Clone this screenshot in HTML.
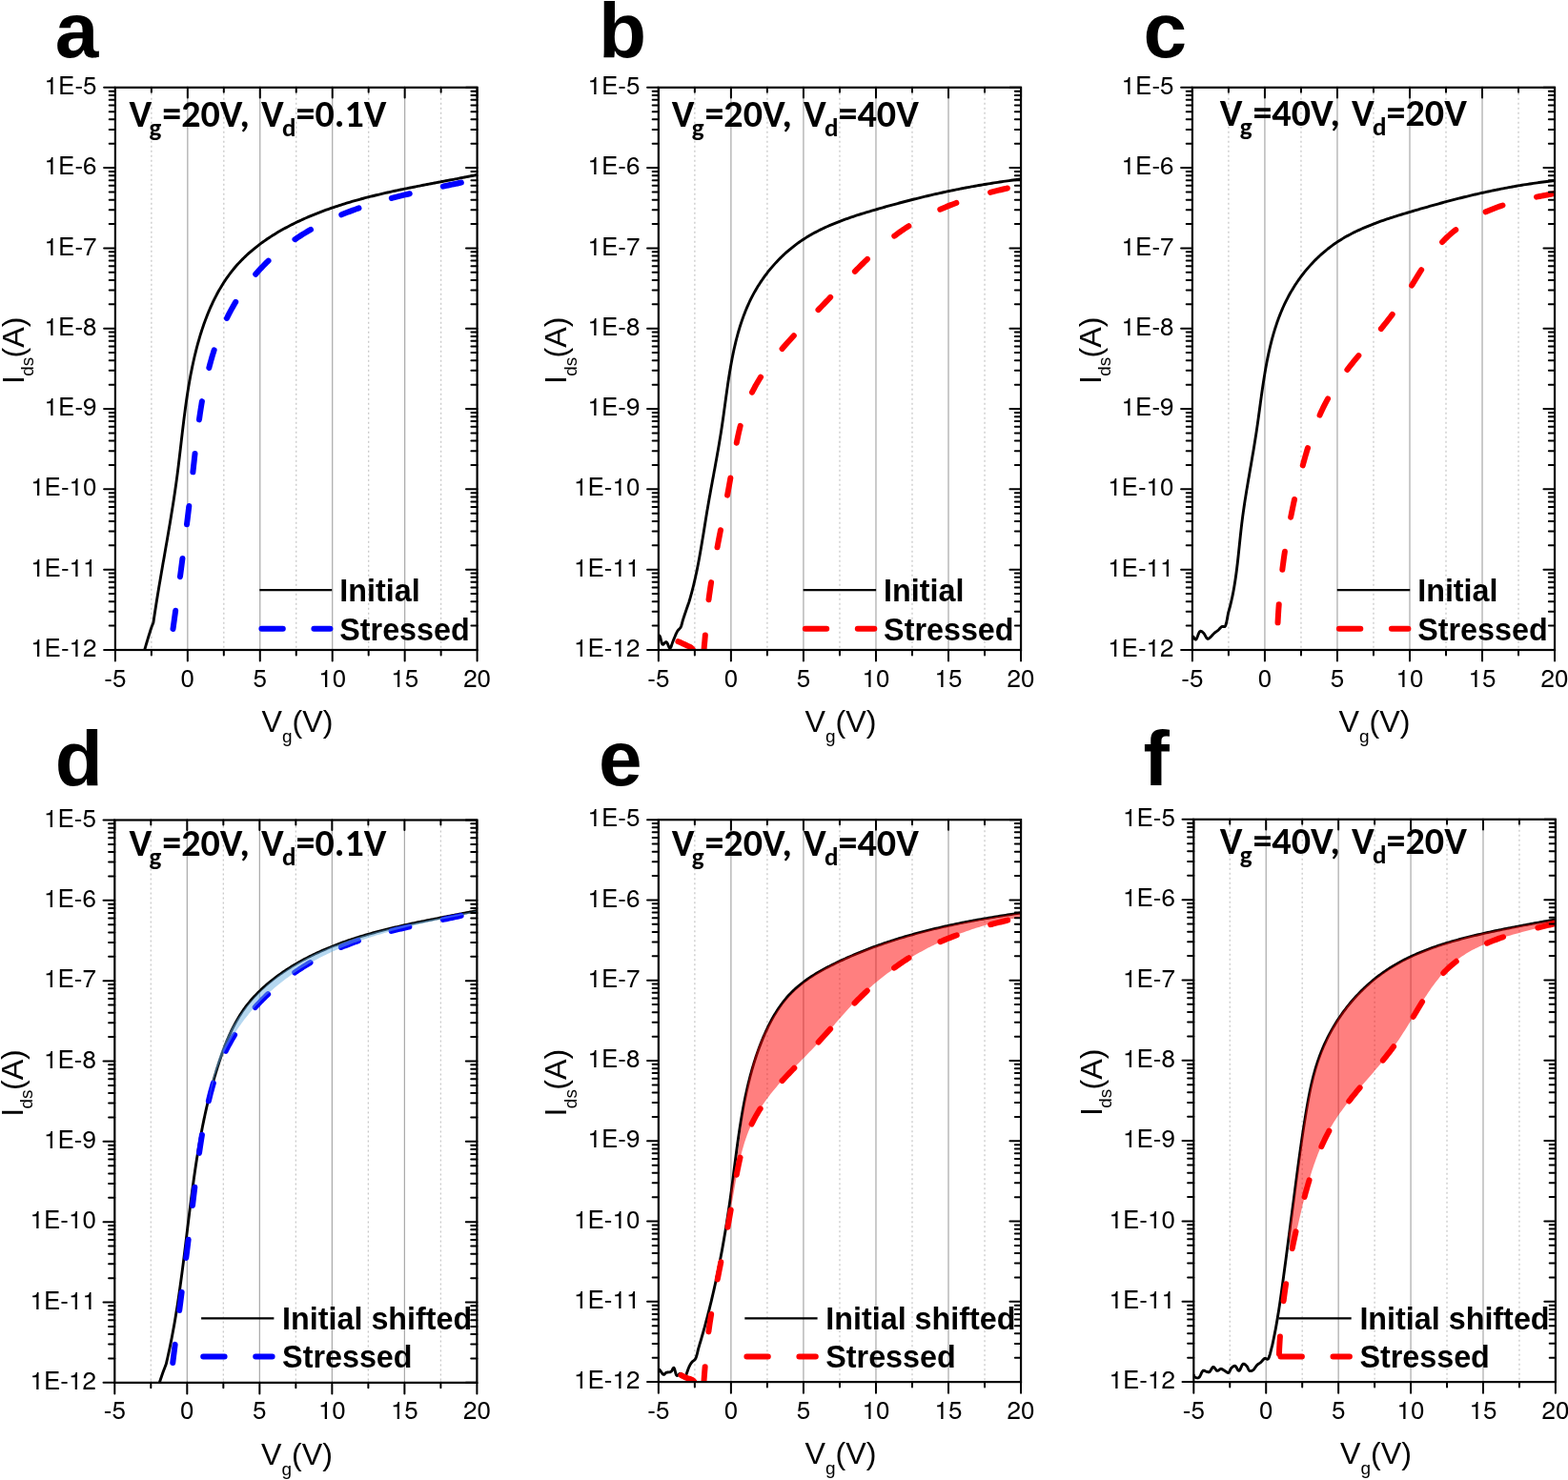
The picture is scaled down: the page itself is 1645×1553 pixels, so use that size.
<!DOCTYPE html><html><head><meta charset="utf-8"><style>
html,body{margin:0;padding:0;background:#fff;}
svg{display:block;}
text{fill:#000;}
.tl{font-family:"TeX Gyre Heros","Liberation Sans",Arial,sans-serif;font-size:26px;}
.at{font-family:"Liberation Sans",Arial,sans-serif;font-size:32.2px;}
.sub{font-size:19px;}
.pl{font-family:"Liberation Sans",Arial,sans-serif;font-size:82px;font-weight:bold;}
.tt{font-family:Carlito,"Liberation Sans",sans-serif;font-size:40px;font-weight:bold;}
.ts{font-size:27px;}
.lg{font-family:"Liberation Sans",Arial,sans-serif;font-size:32.3px;font-weight:bold;}
</style></head><body><svg width="1645" height="1553" viewBox="0 0 1645 1553">
<rect width="100%" height="100%" fill="#fff"/>
<clipPath id="clip0"><rect x="120.9" y="91.8" width="379.7" height="590.2"/></clipPath>
<line x1="158.87" y1="92.8" x2="158.87" y2="682" stroke="#c8c8c8" stroke-width="1.3" stroke-dasharray="2 3"/>
<line x1="234.81" y1="92.8" x2="234.81" y2="682" stroke="#c8c8c8" stroke-width="1.3" stroke-dasharray="2 3"/>
<line x1="310.75" y1="92.8" x2="310.75" y2="682" stroke="#c8c8c8" stroke-width="1.3" stroke-dasharray="2 3"/>
<line x1="386.69" y1="92.8" x2="386.69" y2="682" stroke="#c8c8c8" stroke-width="1.3" stroke-dasharray="2 3"/>
<line x1="462.63" y1="92.8" x2="462.63" y2="682" stroke="#c8c8c8" stroke-width="1.3" stroke-dasharray="2 3"/>
<line x1="196.84" y1="91.8" x2="196.84" y2="682" stroke="#a8a8a8" stroke-width="1.2"/>
<line x1="272.78" y1="91.8" x2="272.78" y2="682" stroke="#a8a8a8" stroke-width="1.2"/>
<line x1="348.72" y1="91.8" x2="348.72" y2="682" stroke="#a8a8a8" stroke-width="1.2"/>
<line x1="424.66" y1="91.8" x2="424.66" y2="682" stroke="#a8a8a8" stroke-width="1.2"/>
<g clip-path="url(#clip0)"><path d="M150.5 687 L150.58 686.65 L150.64 686.29 L150.72 685.87 L150.82 685.34 L150.98 684.66 L151.19 683.78 L151.5 682.64 L151.9 681.2 L152.45 679.31 L153.15 676.94 L153.94 674.25 L154.8 671.39 L155.67 668.51 L156.5 665.77 L157.26 663.31 L157.9 661.3 L158.44 659.68 L158.93 658.28 L159.38 657.08 L159.78 656.06 L160.13 655.19 L160.43 654.46 L160.69 653.84 L160.9 653.3 L161.19 651.29 L161.49 649.28 L161.79 647.28 L162.09 645.27 L162.39 643.27 L162.7 641.27 L163.01 639.27 L163.32 637.27 L163.64 635.27 L163.95 633.28 L164.27 631.28 L164.59 629.29 L164.92 627.3 L165.24 625.31 L165.57 623.31 L165.9 621.33 L166.23 619.34 L166.56 617.35 L166.89 615.36 L167.22 613.38 L167.56 611.4 L167.9 609.41 L168.23 607.43 L168.57 605.45 L168.91 603.47 L169.25 601.49 L169.59 599.51 L169.94 597.53 L170.28 595.55 L170.62 593.57 L170.96 591.6 L171.31 589.62 L171.65 587.64 L172 585.67 L172.34 583.69 L172.68 581.72 L173.03 579.74 L173.37 577.77 L173.72 575.8 L174.06 573.82 L174.4 571.85 L174.74 569.88 L175.08 567.9 L175.42 565.93 L175.76 563.96 L176.1 561.98 L176.44 560.01 L176.78 558.04 L177.11 556.06 L177.45 554.09 L177.78 552.12 L178.11 550.14 L178.44 548.17 L178.77 546.19 L179.1 544.22 L179.42 542.25 L179.74 540.27 L180.06 538.29 L180.38 536.32 L180.7 534.34 L181.01 532.37 L181.33 530.39 L181.64 528.41 L181.94 526.43 L182.25 524.45 L182.55 522.47 L182.85 520.49 L183.15 518.51 L183.44 516.53 L183.73 514.54 L184.02 512.56 L184.3 510.57 L184.58 508.59 L184.86 506.6 L185.13 504.61 L185.4 502.62 L185.67 500.63 L185.93 498.64 L186.19 496.65 L186.45 494.66 L186.7 492.66 L186.95 490.67 L187.2 488.67 L187.44 486.67 L187.68 484.67 L187.92 482.68 L188.16 480.68 L188.4 478.68 L188.63 476.67 L188.87 474.67 L189.1 472.67 L189.33 470.67 L189.57 468.67 L189.8 466.66 L190.03 464.66 L190.26 462.65 L190.49 460.65 L190.73 458.64 L190.96 456.64 L191.19 454.63 L191.43 452.63 L191.67 450.62 L191.91 448.62 L192.15 446.61 L192.39 444.6 L192.64 442.6 L192.88 440.59 L193.13 438.59 L193.39 436.58 L193.64 434.58 L193.91 432.57 L194.17 430.57 L194.44 428.56 L194.71 426.56 L194.99 424.56 L195.27 422.55 L195.55 420.55 L195.84 418.55 L196.14 416.55 L196.44 414.55 L196.75 412.55 L197.06 410.55 L197.38 408.55 L197.71 406.56 L198.04 404.56 L198.38 402.56 L198.72 400.57 L199.08 398.58 L199.44 396.59 L199.8 394.59 L200.18 392.6 L200.56 390.62 L200.96 388.63 L201.36 386.64 L201.77 384.66 L202.18 382.67 L202.61 380.69 L203.05 378.71 L203.5 376.73 L203.95 374.75 L204.42 372.78 L204.9 370.8 L205.38 368.83 L205.88 366.86 L206.39 364.89 L206.91 362.92 L207.44 360.96 L207.99 359 L208.54 357.04 L209.11 355.08 L209.69 353.13 L210.28 351.18 L210.89 349.24 L211.5 347.3 L212.13 345.37 L212.78 343.44 L213.43 341.52 L214.11 339.6 L214.79 337.69 L215.49 335.79 L216.2 333.9 L216.93 332.01 L217.67 330.13 L218.43 328.26 L219.2 326.39 L219.99 324.54 L220.79 322.69 L221.61 320.86 L222.45 319.03 L223.3 317.22 L224.17 315.41 L225.05 313.62 L225.95 311.83 L226.87 310.06 L227.81 308.3 L228.76 306.55 L229.73 304.82 L230.72 303.1 L231.73 301.39 L232.75 299.69 L233.8 298.01 L234.86 296.34 L235.94 294.69 L237.04 293.05 L238.16 291.43 L239.3 289.83 L240.46 288.23 L241.64 286.66 L242.84 285.1 L244.06 283.56 L245.3 282.04 L246.56 280.53 L247.85 279.04 L249.15 277.57 L250.47 276.12 L251.81 274.69 L253.18 273.27 L254.56 271.87 L255.96 270.48 L257.38 269.12 L258.82 267.77 L260.27 266.43 L261.74 265.12 L263.23 263.82 L264.74 262.53 L266.26 261.27 L267.8 260.01 L269.36 258.78 L270.93 257.56 L272.51 256.35 L274.11 255.17 L275.73 253.99 L277.35 252.84 L279 251.69 L280.65 250.56 L282.32 249.45 L284 248.35 L285.69 247.27 L287.39 246.2 L289.11 245.15 L290.84 244.11 L292.58 243.08 L294.32 242.07 L296.08 241.07 L297.85 240.08 L299.63 239.11 L301.41 238.16 L303.21 237.21 L305.01 236.28 L306.83 235.36 L308.64 234.46 L310.47 233.56 L312.31 232.68 L314.15 231.82 L315.99 230.96 L317.84 230.12 L319.7 229.29 L321.57 228.47 L323.43 227.66 L325.31 226.87 L327.18 226.09 L329.06 225.31 L330.95 224.55 L332.84 223.81 L334.73 223.07 L336.62 222.34 L338.52 221.62 L340.42 220.92 L342.33 220.22 L344.24 219.54 L346.15 218.86 L348.06 218.2 L349.98 217.54 L351.9 216.89 L353.83 216.26 L355.75 215.63 L357.68 215.01 L359.61 214.4 L361.55 213.8 L363.48 213.21 L365.42 212.62 L367.36 212.05 L369.31 211.48 L371.25 210.92 L373.2 210.37 L375.15 209.82 L377.1 209.29 L379.05 208.76 L381.01 208.23 L382.97 207.72 L384.93 207.21 L386.89 206.71 L388.85 206.21 L390.81 205.72 L392.78 205.24 L394.75 204.76 L396.71 204.29 L398.68 203.82 L400.65 203.36 L402.62 202.91 L404.6 202.46 L406.57 202.01 L408.54 201.57 L410.52 201.14 L412.49 200.7 L414.47 200.28 L416.45 199.85 L418.42 199.44 L420.4 199.02 L422.38 198.61 L424.36 198.2 L426.34 197.8 L428.32 197.4 L430.3 197 L432.27 196.6 L434.25 196.21 L436.23 195.82 L438.21 195.43 L440.19 195.05 L442.17 194.66 L444.14 194.28 L446.12 193.9 L448.1 193.52 L450.07 193.15 L452.05 192.77 L454.02 192.4 L456 192.02 L457.97 191.65 L459.94 191.28 L461.91 190.9 L463.88 190.53 L465.85 190.16 L467.82 189.79 L469.78 189.42 L471.75 189.04 L473.71 188.67 L475.67 188.3 L477.63 187.92 L479.59 187.55 L481.55 187.17 L483.5 186.79 L485.45 186.41 L487.4 186.03 L489.35 185.64 L491.3 185.26 L493.24 184.87 L495.18 184.48 L497.12 184.09 L499.06 183.69 L501 183.29" fill="none" stroke="#000" stroke-width="2.9" stroke-linejoin="round" stroke-linecap="round"/><path d="M181.09 662.9 L181.37 660.88 L181.65 658.86 L181.93 656.84 L182.21 654.83 L182.49 652.82 L182.77 650.81 L183.04 648.8 L183.32 646.79 L183.59 644.79 L183.87 642.79 L184.14 640.78 L184.42 638.79 L184.69 636.79 L184.96 634.79 L185.23 632.8 L185.51 630.8 L185.78 628.81 L186.05 626.82 L186.32 624.83 L186.58 622.85 L186.85 620.86 L187.12 618.88 L187.39 616.89 L187.65 614.91 L187.92 612.93 L188.18 610.94 L188.45 608.96 L188.71 606.99 L188.97 605.01 L189.23 603.03 L189.5 601.05 L189.76 599.08 L190.02 597.1 L190.28 595.13 L190.54 593.15 L190.79 591.18 L191.05 589.2 L191.31 587.23 L191.56 585.26 L191.82 583.28 L192.07 581.31 L192.33 579.34 L192.58 577.37 L192.83 575.39 L193.09 573.42 L193.34 571.45 L193.59 569.48 L193.84 567.5 L194.09 565.53 L194.33 563.56 L194.58 561.58 L194.83 559.61 L195.07 557.63 L195.32 555.66 L195.57 553.68 L195.81 551.71 L196.05 549.73 L196.29 547.75 L196.54 545.77 L196.78 543.8 L197.02 541.82 L197.26 539.84 L197.5 537.85 L197.73 535.87 L197.97 533.89 L198.21 531.9 L198.44 529.92 L198.68 527.93 L198.91 525.94 L199.15 523.95 L199.38 521.96 L199.61 519.97 L199.84 517.97 L200.07 515.98 L200.3 513.98 L200.53 511.98 L200.76 509.98 L200.99 507.98 L201.21 505.98 L201.44 503.97 L201.67 501.96 L201.89 499.95 L202.11 497.94 L202.34 495.93 L202.56 493.91 L202.78 491.9 L203 489.88 L203.22 487.86 L203.45 485.84 L203.67 483.81 L203.89 481.79 L204.12 479.77 L204.34 477.74 L204.57 475.71 L204.8 473.69 L205.03 471.66 L205.26 469.63 L205.5 467.6 L205.73 465.57 L205.97 463.54 L206.21 461.52 L206.46 459.49 L206.71 457.46 L206.96 455.43 L207.21 453.4 L207.47 451.37 L207.74 449.35 L208 447.32 L208.27 445.3 L208.55 443.27 L208.83 441.25 L209.12 439.23 L209.41 437.21 L209.7 435.19 L210 433.17 L210.31 431.15 L210.62 429.14 L210.94 427.13 L211.27 425.12 L211.6 423.11 L211.94 421.1 L212.29 419.1 L212.64 417.1 L213 415.1 L213.37 413.11 L213.74 411.11 L214.13 409.12 L214.52 407.14 L214.92 405.15 L215.33 403.17 L215.75 401.19 L216.17 399.22 L216.61 397.25 L217.06 395.28 L217.51 393.32 L217.98 391.36 L218.45 389.41 L218.93 387.46 L219.43 385.51 L219.94 383.57 L220.45 381.63 L220.98 379.7 L221.52 377.77 L222.07 375.84 L222.63 373.93 L223.2 372.01 L223.79 370.1 L224.39 368.2 L225 366.3 L225.62 364.41 L226.25 362.52 L226.9 360.64 L227.56 358.77 L228.24 356.9 L228.93 355.04 L229.63 353.18 L230.35 351.33 L231.08 349.49 L231.82 347.65 L232.58 345.82 L233.36 343.99 L234.14 342.17 L234.95 340.36 L235.77 338.56 L236.6 336.76 L237.46 334.98 L238.32 333.19 L239.21 331.42 L240.1 329.65 L241.02 327.9 L241.95 326.15 L242.89 324.4 L243.85 322.67 L244.83 320.95 L245.82 319.23 L246.83 317.52 L247.85 315.83 L248.89 314.14 L249.94 312.46 L251.01 310.79 L252.09 309.13 L253.19 307.48 L254.31 305.84 L255.44 304.21 L256.58 302.59 L257.74 300.99 L258.91 299.39 L260.1 297.8 L261.3 296.23 L262.52 294.67 L263.75 293.11 L265 291.57 L266.26 290.05 L267.54 288.53 L268.83 287.03 L270.13 285.53 L271.45 284.05 L272.79 282.59 L274.14 281.13 L275.5 279.69 L276.88 278.27 L278.27 276.85 L279.67 275.45 L281.09 274.07 L282.53 272.69 L283.98 271.34 L285.44 269.99 L286.91 268.66 L288.4 267.35 L289.91 266.04 L291.42 264.76 L292.95 263.48 L294.49 262.23 L296.05 260.98 L297.62 259.75 L299.2 258.53 L300.79 257.33 L302.39 256.14 L304.01 254.97 L305.64 253.81 L307.28 252.66 L308.93 251.52 L310.59 250.4 L312.26 249.3 L313.94 248.2 L315.63 247.12 L317.33 246.06 L319.04 245 L320.77 243.96 L322.5 242.94 L324.24 241.92 L325.99 240.92 L327.74 239.93 L329.51 238.96 L331.29 238 L333.07 237.05 L334.86 236.11 L336.66 235.19 L338.47 234.28 L340.28 233.38 L342.1 232.49 L343.93 231.62 L345.76 230.76 L347.6 229.91 L349.45 229.07 L351.31 228.25 L353.17 227.44 L355.03 226.64 L356.9 225.85 L358.78 225.08 L360.66 224.31 L362.55 223.56 L364.44 222.82 L366.33 222.09 L368.24 221.37 L370.14 220.66 L372.05 219.96 L373.97 219.28 L375.88 218.6 L377.81 217.93 L379.73 217.28 L381.66 216.63 L383.6 215.99 L385.54 215.36 L387.48 214.74 L389.42 214.13 L391.37 213.53 L393.32 212.94 L395.27 212.35 L397.22 211.77 L399.18 211.21 L401.14 210.64 L403.1 210.09 L405.07 209.54 L407.03 209.01 L409 208.47 L410.97 207.95 L412.94 207.43 L414.92 206.92 L416.89 206.41 L418.86 205.91 L420.84 205.42 L422.82 204.93 L424.79 204.45 L426.77 203.97 L428.75 203.5 L430.73 203.04 L432.71 202.57 L434.69 202.12 L436.67 201.66 L438.65 201.22 L440.62 200.77 L442.6 200.33 L444.58 199.89 L446.55 199.46 L448.53 199.03 L450.5 198.6 L452.48 198.18 L454.45 197.76 L456.42 197.34 L458.39 196.93 L460.35 196.51 L462.32 196.1 L464.28 195.69 L466.24 195.28 L468.2 194.87 L470.15 194.47 L472.11 194.06 L474.06 193.66 L476 193.26 L477.95 192.86 L479.89 192.45 L481.83 192.05 L483.76 191.65 L485.69 191.25 L487.62 190.84 L489.54 190.44 L491.46 190.04 L493.38 189.63 L495.29 189.23 L497.19 188.82 L499.09 188.41 L500.99 188" fill="none" stroke="#0000ff" stroke-width="6" stroke-dasharray="19.48 35.88" stroke-dashoffset="52.52" stroke-linejoin="round" stroke-linecap="round"/></g>
<rect x="120.9" y="91.8" width="379.7" height="590.2" fill="none" stroke="#000" stroke-width="2.2"/>
<path d="M120.9 682v11.6M120.9 91.8v10.6M196.84 682v11.6M196.84 91.8v10.6M272.78 682v11.6M272.78 91.8v10.6M348.72 682v11.6M348.72 91.8v10.6M424.66 682v11.6M424.66 91.8v10.6M500.6 682v11.6M500.6 91.8v10.6M158.87 682v5.4M158.87 91.8v5M234.81 682v5.4M234.81 91.8v5M310.75 682v5.4M310.75 91.8v5M386.69 682v5.4M386.69 91.8v5M462.63 682v5.4M462.63 91.8v5M120.9 682h-11.8M500.6 682h-11.6M120.9 656.62h-6.2M500.6 656.62h-6.2M120.9 641.77h-6.2M500.6 641.77h-6.2M120.9 631.24h-6.2M500.6 631.24h-6.2M120.9 623.07h-6.2M500.6 623.07h-6.2M120.9 616.39h-6.2M500.6 616.39h-6.2M120.9 610.75h-6.2M500.6 610.75h-6.2M120.9 605.86h-6.2M500.6 605.86h-6.2M120.9 601.54h-6.2M500.6 601.54h-6.2M120.9 597.69h-11.8M500.6 597.69h-11.6M120.9 572.3h-6.2M500.6 572.3h-6.2M120.9 557.46h-6.2M500.6 557.46h-6.2M120.9 546.92h-6.2M500.6 546.92h-6.2M120.9 538.75h-6.2M500.6 538.75h-6.2M120.9 532.08h-6.2M500.6 532.08h-6.2M120.9 526.43h-6.2M500.6 526.43h-6.2M120.9 521.54h-6.2M500.6 521.54h-6.2M120.9 517.23h-6.2M500.6 517.23h-6.2M120.9 513.37h-11.8M500.6 513.37h-11.6M120.9 487.99h-6.2M500.6 487.99h-6.2M120.9 473.14h-6.2M500.6 473.14h-6.2M120.9 462.61h-6.2M500.6 462.61h-6.2M120.9 454.44h-6.2M500.6 454.44h-6.2M120.9 447.76h-6.2M500.6 447.76h-6.2M120.9 442.12h-6.2M500.6 442.12h-6.2M120.9 437.23h-6.2M500.6 437.23h-6.2M120.9 432.92h-6.2M500.6 432.92h-6.2M120.9 429.06h-11.8M500.6 429.06h-11.6M120.9 403.68h-6.2M500.6 403.68h-6.2M120.9 388.83h-6.2M500.6 388.83h-6.2M120.9 378.29h-6.2M500.6 378.29h-6.2M120.9 370.12h-6.2M500.6 370.12h-6.2M120.9 363.45h-6.2M500.6 363.45h-6.2M120.9 357.8h-6.2M500.6 357.8h-6.2M120.9 352.91h-6.2M500.6 352.91h-6.2M120.9 348.6h-6.2M500.6 348.6h-6.2M120.9 344.74h-11.8M500.6 344.74h-11.6M120.9 319.36h-6.2M500.6 319.36h-6.2M120.9 304.51h-6.2M500.6 304.51h-6.2M120.9 293.98h-6.2M500.6 293.98h-6.2M120.9 285.81h-6.2M500.6 285.81h-6.2M120.9 279.13h-6.2M500.6 279.13h-6.2M120.9 273.49h-6.2M500.6 273.49h-6.2M120.9 268.6h-6.2M500.6 268.6h-6.2M120.9 264.29h-6.2M500.6 264.29h-6.2M120.9 260.43h-11.8M500.6 260.43h-11.6M120.9 235.05h-6.2M500.6 235.05h-6.2M120.9 220.2h-6.2M500.6 220.2h-6.2M120.9 209.67h-6.2M500.6 209.67h-6.2M120.9 201.5h-6.2M500.6 201.5h-6.2M120.9 194.82h-6.2M500.6 194.82h-6.2M120.9 189.17h-6.2M500.6 189.17h-6.2M120.9 184.29h-6.2M500.6 184.29h-6.2M120.9 179.97h-6.2M500.6 179.97h-6.2M120.9 176.11h-11.8M500.6 176.11h-11.6M120.9 150.73h-6.2M500.6 150.73h-6.2M120.9 135.89h-6.2M500.6 135.89h-6.2M120.9 125.35h-6.2M500.6 125.35h-6.2M120.9 117.18h-6.2M500.6 117.18h-6.2M120.9 110.51h-6.2M500.6 110.51h-6.2M120.9 104.86h-6.2M500.6 104.86h-6.2M120.9 99.97h-6.2M500.6 99.97h-6.2M120.9 95.66h-6.2M500.6 95.66h-6.2M120.9 91.8h-11.8M500.6 91.8h-11.6" stroke="#000" stroke-width="2" stroke-linecap="round" fill="none"/>
<text x="101.5" y="689.1" text-anchor="end" class="tl">1E-12</text>
<text x="101.5" y="604.79" text-anchor="end" class="tl">1E-11</text>
<text x="101.5" y="520.47" text-anchor="end" class="tl">1E-10</text>
<text x="101.5" y="436.16" text-anchor="end" class="tl">1E-9</text>
<text x="101.5" y="351.84" text-anchor="end" class="tl">1E-8</text>
<text x="101.5" y="267.53" text-anchor="end" class="tl">1E-7</text>
<text x="101.5" y="183.21" text-anchor="end" class="tl">1E-6</text>
<text x="101.5" y="98.9" text-anchor="end" class="tl">1E-5</text>
<text x="120.9" y="720.6" text-anchor="middle" class="tl">-5</text>
<text x="196.84" y="720.6" text-anchor="middle" class="tl">0</text>
<text x="272.78" y="720.6" text-anchor="middle" class="tl">5</text>
<text x="348.72" y="720.6" text-anchor="middle" class="tl">10</text>
<text x="424.66" y="720.6" text-anchor="middle" class="tl">15</text>
<text x="500.6" y="720.6" text-anchor="middle" class="tl">20</text>
<text x="274.5" y="768.2" class="at">V<tspan class="sub" dy="10.5">g</tspan><tspan dy="-10.5">(V)</tspan></text>
<text transform="translate(24.5 403.1) rotate(-90)" class="at">I<tspan class="sub" dx="-0.6" dy="10.5">ds</tspan><tspan dx="-0.7" dy="-10.5">(A)</tspan></text>
<clipPath id="clip1"><rect x="690.85" y="91.8" width="380.2" height="590.2"/></clipPath>
<line x1="728.87" y1="92.8" x2="728.87" y2="682" stroke="#c8c8c8" stroke-width="1.3" stroke-dasharray="2 3"/>
<line x1="804.91" y1="92.8" x2="804.91" y2="682" stroke="#c8c8c8" stroke-width="1.3" stroke-dasharray="2 3"/>
<line x1="880.95" y1="92.8" x2="880.95" y2="682" stroke="#c8c8c8" stroke-width="1.3" stroke-dasharray="2 3"/>
<line x1="956.99" y1="92.8" x2="956.99" y2="682" stroke="#c8c8c8" stroke-width="1.3" stroke-dasharray="2 3"/>
<line x1="1033.03" y1="92.8" x2="1033.03" y2="682" stroke="#c8c8c8" stroke-width="1.3" stroke-dasharray="2 3"/>
<line x1="766.89" y1="91.8" x2="766.89" y2="682" stroke="#a8a8a8" stroke-width="1.2"/>
<line x1="842.93" y1="91.8" x2="842.93" y2="682" stroke="#a8a8a8" stroke-width="1.2"/>
<line x1="918.97" y1="91.8" x2="918.97" y2="682" stroke="#a8a8a8" stroke-width="1.2"/>
<line x1="995.01" y1="91.8" x2="995.01" y2="682" stroke="#a8a8a8" stroke-width="1.2"/>
<g clip-path="url(#clip1)"><path d="M691 666.3 L691.12 666.41 L691.27 666.52 L691.45 666.64 L691.65 666.81 L691.87 667.03 L692.11 667.34 L692.35 667.75 L692.6 668.3 L692.85 669.08 L693.1 670.1 L693.36 671.29 L693.64 672.53 L693.93 673.74 L694.25 674.82 L694.61 675.67 L695 676.2 L695.44 676.32 L695.94 676.1 L696.47 675.63 L697.02 675.04 L697.58 674.44 L698.14 673.94 L698.69 673.65 L699.2 673.7 L699.69 674.18 L700.17 675.03 L700.64 676.1 L701.11 677.28 L701.56 678.41 L702.01 679.36 L702.46 680.01 L702.9 680.2 L703.33 679.93 L703.73 679.32 L704.13 678.44 L704.52 677.36 L704.91 676.16 L705.32 674.9 L705.75 673.66 L706.2 672.5 L706.68 671.35 L707.19 670.11 L707.72 668.8 L708.26 667.48 L708.81 666.18 L709.35 664.94 L709.88 663.8 L710.4 662.8 L710.91 661.97 L711.43 661.28 L711.95 660.7 L712.47 660.17 L712.97 659.67 L713.44 659.13 L713.89 658.52 L714.3 657.8 L714.66 656.98 L714.97 656.1 L715.24 655.18 L715.5 654.22 L715.75 653.22 L716.01 652.2 L716.29 651.16 L716.6 650.1 L716.95 649.01 L717.32 647.88 L717.7 646.71 L718.1 645.52 L718.5 644.33 L718.91 643.13 L719.31 641.95 L719.7 640.8 L720.11 639.61 L720.55 638.34 L721 637.04 L721.44 635.77 L721.86 634.57 L722.24 633.49 L722.56 632.58 L722.8 631.9 L723.38 629.99 L723.93 628.08 L724.48 626.16 L725.02 624.23 L725.54 622.3 L726.05 620.37 L726.55 618.43 L727.04 616.49 L727.52 614.55 L728 612.6 L728.46 610.65 L728.91 608.69 L729.35 606.73 L729.78 604.77 L730.21 602.8 L730.63 600.84 L731.04 598.86 L731.44 596.89 L731.84 594.92 L732.22 592.94 L732.61 590.96 L732.98 588.98 L733.35 587 L733.72 585.01 L734.08 583.03 L734.43 581.04 L734.78 579.05 L735.13 577.06 L735.47 575.07 L735.81 573.08 L736.15 571.09 L736.48 569.1 L736.81 567.11 L737.14 565.12 L737.46 563.13 L737.79 561.14 L738.11 559.15 L738.43 557.16 L738.75 555.17 L739.07 553.18 L739.39 551.19 L739.71 549.21 L740.03 547.22 L740.35 545.24 L740.67 543.26 L741 541.28 L741.33 539.31 L741.65 537.33 L741.98 535.36 L742.32 533.39 L742.65 531.43 L742.99 529.46 L743.33 527.5 L743.68 525.54 L744.02 523.58 L744.37 521.62 L744.72 519.67 L745.07 517.72 L745.42 515.76 L745.77 513.81 L746.13 511.86 L746.48 509.91 L746.84 507.97 L747.2 506.02 L747.55 504.07 L747.91 502.13 L748.27 500.18 L748.63 498.23 L748.99 496.29 L749.34 494.34 L749.7 492.4 L750.06 490.45 L750.41 488.5 L750.77 486.55 L751.12 484.6 L751.47 482.65 L751.82 480.7 L752.17 478.75 L752.52 476.8 L752.86 474.84 L753.2 472.88 L753.54 470.92 L753.88 468.96 L754.22 467 L754.55 465.03 L754.88 463.06 L755.21 461.09 L755.53 459.12 L755.85 457.14 L756.17 455.16 L756.48 453.18 L756.79 451.19 L757.09 449.2 L757.39 447.21 L757.69 445.21 L757.98 443.21 L758.27 441.21 L758.55 439.2 L758.84 437.2 L759.12 435.18 L759.4 433.17 L759.68 431.16 L759.95 429.14 L760.23 427.12 L760.51 425.1 L760.78 423.08 L761.06 421.05 L761.34 419.03 L761.61 417.01 L761.89 414.98 L762.18 412.96 L762.46 410.93 L762.75 408.91 L763.04 406.88 L763.33 404.86 L763.63 402.83 L763.93 400.81 L764.23 398.79 L764.54 396.77 L764.86 394.75 L765.18 392.73 L765.5 390.72 L765.84 388.7 L766.18 386.69 L766.52 384.68 L766.88 382.68 L767.24 380.67 L767.61 378.67 L767.99 376.68 L768.38 374.68 L768.77 372.69 L769.18 370.71 L769.59 368.73 L770.02 366.75 L770.46 364.78 L770.91 362.81 L771.37 360.85 L771.84 358.89 L772.32 356.93 L772.82 354.99 L773.33 353.04 L773.85 351.11 L774.39 349.18 L774.94 347.26 L775.5 345.34 L776.08 343.43 L776.68 341.52 L777.29 339.63 L777.92 337.74 L778.56 335.86 L779.22 333.98 L779.89 332.12 L780.59 330.26 L781.3 328.41 L782.03 326.57 L782.78 324.73 L783.54 322.91 L784.33 321.09 L785.13 319.29 L785.96 317.49 L786.81 315.7 L787.67 313.93 L788.56 312.16 L789.47 310.4 L790.4 308.66 L791.35 306.92 L792.33 305.2 L793.32 303.48 L794.34 301.78 L795.37 300.09 L796.43 298.42 L797.51 296.75 L798.6 295.1 L799.72 293.46 L800.86 291.83 L802.02 290.22 L803.2 288.62 L804.39 287.04 L805.61 285.47 L806.85 283.91 L808.1 282.38 L809.38 280.85 L810.67 279.34 L811.98 277.85 L813.31 276.37 L814.66 274.91 L816.03 273.47 L817.41 272.04 L818.82 270.63 L820.24 269.24 L821.68 267.87 L823.13 266.51 L824.61 265.18 L826.1 263.86 L827.61 262.56 L829.13 261.28 L830.67 260.02 L832.23 258.78 L833.81 257.56 L835.4 256.36 L837.01 255.18 L838.63 254.02 L840.27 252.88 L841.92 251.77 L843.59 250.68 L845.28 249.61 L846.98 248.56 L848.69 247.53 L850.42 246.52 L852.16 245.53 L853.92 244.56 L855.69 243.61 L857.47 242.68 L859.26 241.76 L861.06 240.87 L862.88 239.99 L864.7 239.13 L866.54 238.28 L868.38 237.45 L870.24 236.64 L872.1 235.84 L873.97 235.06 L875.85 234.29 L877.74 233.53 L879.63 232.79 L881.53 232.06 L883.44 231.34 L885.35 230.63 L887.27 229.94 L889.2 229.26 L891.12 228.58 L893.06 227.92 L894.99 227.27 L896.93 226.63 L898.88 225.99 L900.82 225.37 L902.77 224.75 L904.72 224.14 L906.67 223.54 L908.62 222.94 L910.57 222.36 L912.52 221.77 L914.47 221.19 L916.42 220.62 L918.37 220.05 L920.32 219.49 L922.27 218.93 L924.21 218.37 L926.15 217.82 L928.09 217.27 L930.03 216.72 L931.97 216.18 L933.9 215.65 L935.84 215.11 L937.77 214.58 L939.71 214.06 L941.64 213.54 L943.57 213.02 L945.5 212.5 L947.43 211.99 L949.35 211.49 L951.28 210.99 L953.21 210.49 L955.14 210 L957.06 209.51 L958.99 209.02 L960.91 208.54 L962.84 208.06 L964.76 207.59 L966.69 207.12 L968.62 206.65 L970.54 206.19 L972.47 205.73 L974.39 205.27 L976.32 204.82 L978.25 204.38 L980.18 203.94 L982.11 203.5 L984.04 203.06 L985.97 202.63 L987.9 202.21 L989.83 201.79 L991.77 201.37 L993.7 200.95 L995.64 200.54 L997.57 200.14 L999.51 199.74 L1001.45 199.34 L1003.4 198.95 L1005.34 198.56 L1007.29 198.17 L1009.23 197.79 L1011.18 197.41 L1013.14 197.04 L1015.09 196.67 L1017.05 196.3 L1019 195.94 L1020.96 195.58 L1022.93 195.23 L1024.89 194.88 L1026.86 194.54 L1028.83 194.2 L1030.81 193.86 L1032.78 193.53 L1034.76 193.2 L1036.75 192.88 L1038.73 192.56 L1040.72 192.24 L1042.71 191.93 L1044.71 191.62 L1046.71 191.32 L1048.71 191.02 L1050.72 190.72 L1052.73 190.43 L1054.74 190.14 L1056.76 189.86 L1058.78 189.58 L1060.81 189.31 L1062.84 189.04 L1064.87 188.77 L1066.91 188.51 L1068.95 188.25 L1071 188" fill="none" stroke="#000" stroke-width="2.9" stroke-linejoin="round" stroke-linecap="round"/><path d="M710.8 672.9 L711.48 673.2 L712.4 673.59 L713.5 674.06 L714.71 674.59 L715.98 675.14 L717.24 675.71 L718.43 676.27 L719.5 676.8 L720.48 677.27 L721.44 677.7 L722.38 678.12 L723.29 678.55 L724.17 679.02 L725 679.57 L725.78 680.22 L726.5 681 L727.14 681.93 L727.7 682.99 L728.2 684.15 L728.66 685.39 L729.1 686.67 L729.54 687.97 L730 689.25 L730.5 690.5 L731.05 691.83 L731.62 693.33 L732.21 694.89 L732.8 696.44 L733.39 697.86 L733.95 699.08 L734.5 699.99 L735 700.5 L735.48 700.61 L735.96 700.4 L736.42 699.93 L736.86 699.23 L737.26 698.34 L737.63 697.31 L737.94 696.18 L738.2 695 L738.38 693.66 L738.49 692.07 L738.54 690.31 L738.55 688.44 L738.54 686.55 L738.54 684.69 L738.55 682.95 L738.6 681.4 L738.68 680.03 L738.77 678.77 L738.87 677.59 L738.98 676.47 L739.08 675.38 L739.19 674.29 L739.3 673.17 L739.4 672 L739.51 670.72 L739.62 669.33 L739.74 667.89 L739.85 666.46 L739.96 665.11 L740.06 663.89 L740.14 662.87 L740.2 662.1 L740.34 660.07 L740.5 658.04 L740.66 656.02 L740.83 653.99 L741 651.97 L741.19 649.96 L741.38 647.94 L741.58 645.93 L741.78 643.92 L742 641.91 L742.22 639.91 L742.45 637.91 L742.68 635.91 L742.92 633.91 L743.17 631.91 L743.42 629.92 L743.68 627.93 L743.94 625.94 L744.21 623.95 L744.49 621.97 L744.77 619.98 L745.06 618 L745.35 616.02 L745.65 614.04 L745.95 612.06 L746.26 610.08 L746.57 608.11 L746.89 606.13 L747.21 604.16 L747.53 602.19 L747.86 600.22 L748.2 598.25 L748.53 596.28 L748.87 594.31 L749.22 592.35 L749.56 590.38 L749.91 588.42 L750.27 586.45 L750.62 584.49 L750.98 582.52 L751.35 580.56 L751.71 578.6 L752.08 576.63 L752.45 574.67 L752.82 572.71 L753.19 570.74 L753.56 568.78 L753.94 566.82 L754.32 564.86 L754.7 562.89 L755.08 560.93 L755.46 558.97 L755.84 557 L756.23 555.04 L756.61 553.07 L756.99 551.11 L757.38 549.14 L757.76 547.17 L758.15 545.2 L758.53 543.23 L758.92 541.26 L759.3 539.29 L759.69 537.32 L760.07 535.35 L760.45 533.37 L760.84 531.4 L761.22 529.42 L761.6 527.44 L761.97 525.46 L762.35 523.48 L762.73 521.5 L763.1 519.51 L763.47 517.53 L763.84 515.54 L764.21 513.55 L764.57 511.56 L764.93 509.56 L765.29 507.56 L765.65 505.57 L766.01 503.57 L766.36 501.56 L766.7 499.56 L767.05 497.55 L767.39 495.54 L767.73 493.53 L768.07 491.51 L768.41 489.5 L768.75 487.49 L769.08 485.47 L769.43 483.46 L769.77 481.44 L770.11 479.43 L770.46 477.42 L770.81 475.4 L771.17 473.39 L771.53 471.39 L771.9 469.38 L772.27 467.38 L772.65 465.38 L773.04 463.38 L773.44 461.39 L773.85 459.4 L774.26 457.42 L774.69 455.44 L775.13 453.47 L775.58 451.5 L776.04 449.54 L776.51 447.58 L777 445.63 L777.5 443.69 L778.02 441.75 L778.56 439.82 L779.11 437.9 L779.67 435.99 L780.26 434.09 L780.86 432.19 L781.48 430.31 L782.12 428.43 L782.78 426.56 L783.46 424.71 L784.17 422.86 L784.89 421.03 L785.64 419.21 L786.41 417.39 L787.21 415.59 L788.03 413.81 L788.87 412.03 L789.74 410.27 L790.63 408.52 L791.55 406.78 L792.49 405.05 L793.44 403.33 L794.42 401.63 L795.43 399.93 L796.45 398.24 L797.49 396.57 L798.54 394.9 L799.62 393.24 L800.72 391.6 L801.83 389.96 L802.96 388.33 L804.11 386.71 L805.27 385.1 L806.44 383.49 L807.64 381.9 L808.84 380.31 L810.06 378.73 L811.29 377.16 L812.54 375.59 L813.79 374.03 L815.06 372.48 L816.34 370.93 L817.63 369.39 L818.93 367.85 L820.24 366.33 L821.56 364.8 L822.88 363.28 L824.22 361.77 L825.56 360.26 L826.9 358.76 L828.26 357.26 L829.62 355.76 L830.98 354.27 L832.35 352.78 L833.72 351.29 L835.09 349.81 L836.47 348.33 L837.85 346.85 L839.24 345.38 L840.62 343.9 L842.01 342.43 L843.39 340.97 L844.78 339.5 L846.17 338.03 L847.56 336.57 L848.96 335.11 L850.35 333.65 L851.74 332.19 L853.14 330.73 L854.53 329.27 L855.93 327.82 L857.33 326.36 L858.72 324.9 L860.12 323.45 L861.51 321.99 L862.91 320.54 L864.3 319.08 L865.69 317.63 L867.09 316.17 L868.48 314.72 L869.87 313.26 L871.26 311.8 L872.65 310.34 L874.03 308.88 L875.42 307.42 L876.8 305.96 L878.18 304.5 L879.56 303.03 L880.94 301.57 L882.32 300.1 L883.7 298.64 L885.08 297.18 L886.46 295.72 L887.84 294.26 L889.23 292.8 L890.62 291.34 L892 289.89 L893.4 288.44 L894.79 287 L896.19 285.55 L897.6 284.11 L899.01 282.68 L900.42 281.25 L901.84 279.83 L903.27 278.41 L904.7 277 L906.14 275.59 L907.58 274.2 L909.03 272.8 L910.48 271.42 L911.94 270.04 L913.41 268.67 L914.88 267.3 L916.36 265.95 L917.84 264.6 L919.34 263.26 L920.84 261.93 L922.34 260.61 L923.86 259.3 L925.38 258 L926.91 256.71 L928.45 255.43 L929.99 254.16 L931.55 252.9 L933.11 251.65 L934.68 250.42 L936.26 249.19 L937.85 247.98 L939.45 246.78 L941.05 245.6 L942.67 244.42 L944.29 243.26 L945.92 242.11 L947.57 240.98 L949.22 239.86 L950.88 238.76 L952.56 237.67 L954.24 236.59 L955.94 235.53 L957.64 234.49 L959.36 233.46 L961.08 232.45 L962.82 231.45 L964.56 230.46 L966.32 229.5 L968.08 228.54 L969.85 227.6 L971.63 226.68 L973.42 225.77 L975.22 224.87 L977.03 223.99 L978.84 223.12 L980.67 222.27 L982.5 221.43 L984.34 220.6 L986.18 219.78 L988.03 218.98 L989.89 218.19 L991.76 217.41 L993.63 216.65 L995.5 215.9 L997.39 215.16 L999.27 214.43 L1001.17 213.72 L1003.07 213.01 L1004.97 212.32 L1006.88 211.64 L1008.79 210.97 L1010.71 210.31 L1012.63 209.66 L1014.55 209.02 L1016.48 208.4 L1018.41 207.78 L1020.35 207.18 L1022.28 206.58 L1024.22 205.99 L1026.17 205.42 L1028.11 204.85 L1030.06 204.3 L1032.01 203.75 L1033.96 203.21 L1035.91 202.68 L1037.86 202.16 L1039.81 201.65 L1041.77 201.14 L1043.72 200.65 L1045.68 200.16 L1047.63 199.68 L1049.58 199.21 L1051.54 198.75 L1053.49 198.29 L1055.44 197.84 L1057.39 197.4 L1059.34 196.97 L1061.29 196.54 L1063.24 196.12 L1065.18 195.71 L1067.12 195.3 L1069.06 194.9 L1071 194.5" fill="none" stroke="#ff0000" stroke-width="6" stroke-dasharray="18.36 37.34" stroke-dashoffset="55.03" stroke-linejoin="round" stroke-linecap="round"/></g>
<rect x="690.85" y="91.8" width="380.2" height="590.2" fill="none" stroke="#000" stroke-width="2.2"/>
<path d="M690.85 682v11.6M690.85 91.8v10.6M766.89 682v11.6M766.89 91.8v10.6M842.93 682v11.6M842.93 91.8v10.6M918.97 682v11.6M918.97 91.8v10.6M995.01 682v11.6M995.01 91.8v10.6M1071.05 682v11.6M1071.05 91.8v10.6M728.87 682v5.4M728.87 91.8v5M804.91 682v5.4M804.91 91.8v5M880.95 682v5.4M880.95 91.8v5M956.99 682v5.4M956.99 91.8v5M1033.03 682v5.4M1033.03 91.8v5M690.85 682h-11.8M1071.05 682h-11.6M690.85 656.62h-6.2M1071.05 656.62h-6.2M690.85 641.77h-6.2M1071.05 641.77h-6.2M690.85 631.24h-6.2M1071.05 631.24h-6.2M690.85 623.07h-6.2M1071.05 623.07h-6.2M690.85 616.39h-6.2M1071.05 616.39h-6.2M690.85 610.75h-6.2M1071.05 610.75h-6.2M690.85 605.86h-6.2M1071.05 605.86h-6.2M690.85 601.54h-6.2M1071.05 601.54h-6.2M690.85 597.69h-11.8M1071.05 597.69h-11.6M690.85 572.3h-6.2M1071.05 572.3h-6.2M690.85 557.46h-6.2M1071.05 557.46h-6.2M690.85 546.92h-6.2M1071.05 546.92h-6.2M690.85 538.75h-6.2M1071.05 538.75h-6.2M690.85 532.08h-6.2M1071.05 532.08h-6.2M690.85 526.43h-6.2M1071.05 526.43h-6.2M690.85 521.54h-6.2M1071.05 521.54h-6.2M690.85 517.23h-6.2M1071.05 517.23h-6.2M690.85 513.37h-11.8M1071.05 513.37h-11.6M690.85 487.99h-6.2M1071.05 487.99h-6.2M690.85 473.14h-6.2M1071.05 473.14h-6.2M690.85 462.61h-6.2M1071.05 462.61h-6.2M690.85 454.44h-6.2M1071.05 454.44h-6.2M690.85 447.76h-6.2M1071.05 447.76h-6.2M690.85 442.12h-6.2M1071.05 442.12h-6.2M690.85 437.23h-6.2M1071.05 437.23h-6.2M690.85 432.92h-6.2M1071.05 432.92h-6.2M690.85 429.06h-11.8M1071.05 429.06h-11.6M690.85 403.68h-6.2M1071.05 403.68h-6.2M690.85 388.83h-6.2M1071.05 388.83h-6.2M690.85 378.29h-6.2M1071.05 378.29h-6.2M690.85 370.12h-6.2M1071.05 370.12h-6.2M690.85 363.45h-6.2M1071.05 363.45h-6.2M690.85 357.8h-6.2M1071.05 357.8h-6.2M690.85 352.91h-6.2M1071.05 352.91h-6.2M690.85 348.6h-6.2M1071.05 348.6h-6.2M690.85 344.74h-11.8M1071.05 344.74h-11.6M690.85 319.36h-6.2M1071.05 319.36h-6.2M690.85 304.51h-6.2M1071.05 304.51h-6.2M690.85 293.98h-6.2M1071.05 293.98h-6.2M690.85 285.81h-6.2M1071.05 285.81h-6.2M690.85 279.13h-6.2M1071.05 279.13h-6.2M690.85 273.49h-6.2M1071.05 273.49h-6.2M690.85 268.6h-6.2M1071.05 268.6h-6.2M690.85 264.29h-6.2M1071.05 264.29h-6.2M690.85 260.43h-11.8M1071.05 260.43h-11.6M690.85 235.05h-6.2M1071.05 235.05h-6.2M690.85 220.2h-6.2M1071.05 220.2h-6.2M690.85 209.67h-6.2M1071.05 209.67h-6.2M690.85 201.5h-6.2M1071.05 201.5h-6.2M690.85 194.82h-6.2M1071.05 194.82h-6.2M690.85 189.17h-6.2M1071.05 189.17h-6.2M690.85 184.29h-6.2M1071.05 184.29h-6.2M690.85 179.97h-6.2M1071.05 179.97h-6.2M690.85 176.11h-11.8M1071.05 176.11h-11.6M690.85 150.73h-6.2M1071.05 150.73h-6.2M690.85 135.89h-6.2M1071.05 135.89h-6.2M690.85 125.35h-6.2M1071.05 125.35h-6.2M690.85 117.18h-6.2M1071.05 117.18h-6.2M690.85 110.51h-6.2M1071.05 110.51h-6.2M690.85 104.86h-6.2M1071.05 104.86h-6.2M690.85 99.97h-6.2M1071.05 99.97h-6.2M690.85 95.66h-6.2M1071.05 95.66h-6.2M690.85 91.8h-11.8M1071.05 91.8h-11.6" stroke="#000" stroke-width="2" stroke-linecap="round" fill="none"/>
<text x="671.45" y="689.1" text-anchor="end" class="tl">1E-12</text>
<text x="671.45" y="604.79" text-anchor="end" class="tl">1E-11</text>
<text x="671.45" y="520.47" text-anchor="end" class="tl">1E-10</text>
<text x="671.45" y="436.16" text-anchor="end" class="tl">1E-9</text>
<text x="671.45" y="351.84" text-anchor="end" class="tl">1E-8</text>
<text x="671.45" y="267.53" text-anchor="end" class="tl">1E-7</text>
<text x="671.45" y="183.21" text-anchor="end" class="tl">1E-6</text>
<text x="671.45" y="98.9" text-anchor="end" class="tl">1E-5</text>
<text x="690.85" y="720.6" text-anchor="middle" class="tl">-5</text>
<text x="766.89" y="720.6" text-anchor="middle" class="tl">0</text>
<text x="842.93" y="720.6" text-anchor="middle" class="tl">5</text>
<text x="918.97" y="720.6" text-anchor="middle" class="tl">10</text>
<text x="995.01" y="720.6" text-anchor="middle" class="tl">15</text>
<text x="1071.05" y="720.6" text-anchor="middle" class="tl">20</text>
<text x="844.45" y="768.2" class="at">V<tspan class="sub" dy="10.5">g</tspan><tspan dy="-10.5">(V)</tspan></text>
<text transform="translate(594.45 403.1) rotate(-90)" class="at">I<tspan class="sub" dx="-0.6" dy="10.5">ds</tspan><tspan dx="-0.7" dy="-10.5">(A)</tspan></text>
<clipPath id="clip2"><rect x="1250.9" y="91.8" width="380.15" height="590.2"/></clipPath>
<line x1="1288.91" y1="92.8" x2="1288.91" y2="682" stroke="#c8c8c8" stroke-width="1.3" stroke-dasharray="2 3"/>
<line x1="1364.95" y1="92.8" x2="1364.95" y2="682" stroke="#c8c8c8" stroke-width="1.3" stroke-dasharray="2 3"/>
<line x1="1440.97" y1="92.8" x2="1440.97" y2="682" stroke="#c8c8c8" stroke-width="1.3" stroke-dasharray="2 3"/>
<line x1="1517.01" y1="92.8" x2="1517.01" y2="682" stroke="#c8c8c8" stroke-width="1.3" stroke-dasharray="2 3"/>
<line x1="1593.03" y1="92.8" x2="1593.03" y2="682" stroke="#c8c8c8" stroke-width="1.3" stroke-dasharray="2 3"/>
<line x1="1326.93" y1="91.8" x2="1326.93" y2="682" stroke="#a8a8a8" stroke-width="1.2"/>
<line x1="1402.96" y1="91.8" x2="1402.96" y2="682" stroke="#a8a8a8" stroke-width="1.2"/>
<line x1="1478.99" y1="91.8" x2="1478.99" y2="682" stroke="#a8a8a8" stroke-width="1.2"/>
<line x1="1555.02" y1="91.8" x2="1555.02" y2="682" stroke="#a8a8a8" stroke-width="1.2"/>
<g clip-path="url(#clip2)"><path d="M1251.9 668.1 L1252.12 668.4 L1252.4 668.88 L1252.73 669.47 L1253.11 670.07 L1253.51 670.61 L1253.94 670.99 L1254.37 671.15 L1254.8 671 L1255.24 670.43 L1255.7 669.48 L1256.19 668.28 L1256.69 666.94 L1257.19 665.59 L1257.7 664.35 L1258.21 663.35 L1258.7 662.7 L1259.19 662.39 L1259.68 662.29 L1260.17 662.36 L1260.66 662.57 L1261.14 662.89 L1261.63 663.29 L1262.12 663.74 L1262.6 664.2 L1263.09 664.77 L1263.58 665.5 L1264.07 666.35 L1264.56 667.25 L1265.05 668.13 L1265.52 668.92 L1265.97 669.57 L1266.4 670 L1266.79 670.24 L1267.14 670.34 L1267.47 670.33 L1267.79 670.22 L1268.11 670.02 L1268.46 669.76 L1268.85 669.45 L1269.3 669.1 L1269.82 668.67 L1270.39 668.11 L1271 667.47 L1271.64 666.78 L1272.28 666.07 L1272.92 665.38 L1273.53 664.74 L1274.1 664.2 L1274.63 663.75 L1275.14 663.36 L1275.63 663.01 L1276.11 662.68 L1276.58 662.37 L1277.05 662.04 L1277.52 661.69 L1278 661.3 L1278.49 660.85 L1278.98 660.35 L1279.47 659.82 L1279.96 659.28 L1280.44 658.76 L1280.93 658.27 L1281.42 657.85 L1281.9 657.5 L1282.39 657.33 L1282.88 657.35 L1283.37 657.47 L1283.86 657.61 L1284.35 657.67 L1284.82 657.56 L1285.27 657.2 L1285.7 656.5 L1286.13 655.32 L1286.56 653.69 L1286.98 651.76 L1287.39 649.69 L1287.76 647.62 L1288.1 645.72 L1288.38 644.13 L1288.61 643 L1289.16 641.09 L1289.69 639.17 L1290.21 637.25 L1290.7 635.32 L1291.18 633.38 L1291.65 631.44 L1292.09 629.49 L1292.52 627.54 L1292.94 625.58 L1293.34 623.62 L1293.72 621.66 L1294.09 619.69 L1294.45 617.71 L1294.8 615.73 L1295.13 613.75 L1295.45 611.77 L1295.77 609.78 L1296.07 607.79 L1296.36 605.79 L1296.64 603.79 L1296.92 601.79 L1297.18 599.79 L1297.44 597.79 L1297.69 595.78 L1297.93 593.77 L1298.17 591.76 L1298.4 589.75 L1298.63 587.74 L1298.85 585.73 L1299.07 583.72 L1299.29 581.7 L1299.5 579.69 L1299.71 577.67 L1299.92 575.66 L1300.13 573.65 L1300.34 571.63 L1300.55 569.62 L1300.76 567.61 L1300.97 565.6 L1301.18 563.59 L1301.39 561.58 L1301.61 559.57 L1301.82 557.57 L1302.05 555.57 L1302.27 553.57 L1302.51 551.57 L1302.74 549.58 L1302.99 547.58 L1303.24 545.59 L1303.49 543.61 L1303.75 541.62 L1304.02 539.64 L1304.3 537.67 L1304.57 535.69 L1304.86 533.72 L1305.14 531.74 L1305.44 529.77 L1305.73 527.81 L1306.04 525.84 L1306.34 523.88 L1306.65 521.91 L1306.96 519.95 L1307.28 517.99 L1307.6 516.03 L1307.92 514.07 L1308.24 512.11 L1308.57 510.16 L1308.9 508.2 L1309.23 506.24 L1309.56 504.29 L1309.89 502.33 L1310.23 500.38 L1310.57 498.42 L1310.9 496.47 L1311.24 494.51 L1311.58 492.55 L1311.92 490.6 L1312.26 488.64 L1312.6 486.68 L1312.93 484.72 L1313.27 482.76 L1313.61 480.79 L1313.94 478.83 L1314.28 476.87 L1314.61 474.9 L1314.94 472.93 L1315.27 470.96 L1315.6 468.99 L1315.92 467.01 L1316.24 465.04 L1316.56 463.06 L1316.88 461.07 L1317.19 459.09 L1317.5 457.1 L1317.81 455.11 L1318.11 453.12 L1318.41 451.12 L1318.7 449.12 L1318.99 447.12 L1319.28 445.11 L1319.56 443.11 L1319.85 441.09 L1320.13 439.08 L1320.4 437.07 L1320.68 435.05 L1320.96 433.03 L1321.23 431.01 L1321.51 428.99 L1321.78 426.97 L1322.05 424.95 L1322.33 422.92 L1322.61 420.9 L1322.88 418.88 L1323.16 416.85 L1323.45 414.83 L1323.73 412.8 L1324.02 410.78 L1324.31 408.76 L1324.6 406.73 L1324.9 404.71 L1325.21 402.69 L1325.51 400.67 L1325.83 398.65 L1326.15 396.64 L1326.47 394.62 L1326.8 392.61 L1327.14 390.6 L1327.48 388.59 L1327.83 386.58 L1328.19 384.58 L1328.56 382.58 L1328.93 380.58 L1329.31 378.59 L1329.71 376.6 L1330.11 374.61 L1330.52 372.63 L1330.94 370.65 L1331.38 368.68 L1331.82 366.71 L1332.27 364.74 L1332.74 362.78 L1333.22 360.83 L1333.71 358.88 L1334.21 356.93 L1334.73 354.99 L1335.26 353.06 L1335.8 351.13 L1336.36 349.21 L1336.93 347.29 L1337.52 345.38 L1338.12 343.48 L1338.74 341.58 L1339.37 339.69 L1340.02 337.81 L1340.69 335.94 L1341.37 334.07 L1342.07 332.21 L1342.79 330.36 L1343.53 328.51 L1344.28 326.68 L1345.06 324.85 L1345.85 323.03 L1346.66 321.22 L1347.49 319.42 L1348.35 317.63 L1349.22 315.84 L1350.12 314.07 L1351.03 312.31 L1351.97 310.56 L1352.92 308.81 L1353.9 307.08 L1354.9 305.36 L1355.92 303.65 L1356.96 301.95 L1358.02 300.27 L1359.1 298.59 L1360.19 296.93 L1361.31 295.29 L1362.45 293.65 L1363.61 292.03 L1364.79 290.43 L1365.98 288.83 L1367.2 287.26 L1368.44 285.7 L1369.69 284.15 L1370.96 282.62 L1372.25 281.1 L1373.57 279.6 L1374.9 278.12 L1376.24 276.66 L1377.61 275.21 L1378.99 273.78 L1380.4 272.36 L1381.82 270.97 L1383.26 269.59 L1384.71 268.24 L1386.19 266.9 L1387.68 265.58 L1389.19 264.28 L1390.72 263.01 L1392.26 261.75 L1393.82 260.51 L1395.4 259.3 L1397 258.1 L1398.61 256.93 L1400.24 255.78 L1401.88 254.65 L1403.55 253.55 L1405.22 252.47 L1406.92 251.41 L1408.63 250.37 L1410.35 249.35 L1412.09 248.35 L1413.84 247.38 L1415.61 246.42 L1417.39 245.48 L1419.18 244.56 L1420.98 243.66 L1422.8 242.77 L1424.62 241.91 L1426.46 241.06 L1428.31 240.22 L1430.16 239.41 L1432.03 238.6 L1433.9 237.81 L1435.78 237.04 L1437.68 236.28 L1439.57 235.53 L1441.48 234.8 L1443.39 234.08 L1445.31 233.37 L1447.23 232.67 L1449.16 231.98 L1451.09 231.31 L1453.03 230.64 L1454.97 229.98 L1456.92 229.33 L1458.86 228.69 L1460.81 228.06 L1462.77 227.44 L1464.72 226.82 L1466.67 226.21 L1468.63 225.61 L1470.58 225.01 L1472.54 224.41 L1474.49 223.82 L1476.44 223.24 L1478.4 222.66 L1480.34 222.08 L1482.29 221.5 L1484.23 220.93 L1486.18 220.36 L1488.12 219.8 L1490.05 219.23 L1491.99 218.68 L1493.93 218.12 L1495.86 217.57 L1497.79 217.02 L1499.72 216.47 L1501.65 215.93 L1503.57 215.39 L1505.5 214.85 L1507.43 214.32 L1509.35 213.79 L1511.27 213.26 L1513.2 212.74 L1515.12 212.22 L1517.04 211.71 L1518.96 211.2 L1520.88 210.69 L1522.8 210.19 L1524.72 209.69 L1526.64 209.19 L1528.56 208.7 L1530.48 208.21 L1532.4 207.73 L1534.32 207.25 L1536.25 206.78 L1538.17 206.3 L1540.09 205.84 L1542.01 205.37 L1543.94 204.91 L1545.86 204.46 L1547.79 204.01 L1549.72 203.56 L1551.65 203.12 L1553.58 202.69 L1555.51 202.25 L1557.44 201.82 L1559.38 201.4 L1561.31 200.98 L1563.25 200.57 L1565.19 200.16 L1567.14 199.75 L1569.08 199.35 L1571.03 198.96 L1572.98 198.57 L1574.93 198.18 L1576.88 197.8 L1578.84 197.42 L1580.8 197.05 L1582.76 196.69 L1584.73 196.33 L1586.7 195.97 L1588.67 195.62 L1590.65 195.27 L1592.63 194.93 L1594.61 194.6 L1596.59 194.27 L1598.58 193.94 L1600.58 193.62 L1602.57 193.31 L1604.58 193 L1606.58 192.7 L1608.59 192.4 L1610.6 192.11 L1612.62 191.82 L1614.65 191.54 L1616.67 191.26 L1618.7 191 L1620.74 190.73 L1622.78 190.47 L1624.83 190.22 L1626.88 189.97 L1628.94 189.73 L1631 189.5" fill="none" stroke="#000" stroke-width="2.9" stroke-linejoin="round" stroke-linecap="round"/><path d="M1340.4 656.5 L1340.49 654.49 L1340.59 652.48 L1340.69 650.47 L1340.8 648.46 L1340.91 646.45 L1341.03 644.44 L1341.16 642.43 L1341.29 640.42 L1341.42 638.42 L1341.57 636.41 L1341.71 634.41 L1341.86 632.4 L1342.02 630.4 L1342.18 628.4 L1342.35 626.4 L1342.52 624.4 L1342.7 622.4 L1342.88 620.4 L1343.07 618.4 L1343.27 616.4 L1343.46 614.4 L1343.67 612.41 L1343.88 610.41 L1344.09 608.41 L1344.31 606.42 L1344.54 604.43 L1344.77 602.43 L1345 600.44 L1345.25 598.45 L1345.49 596.46 L1345.74 594.47 L1346 592.48 L1346.26 590.49 L1346.53 588.5 L1346.8 586.51 L1347.08 584.53 L1347.36 582.54 L1347.65 580.56 L1347.94 578.57 L1348.24 576.59 L1348.54 574.61 L1348.85 572.62 L1349.16 570.64 L1349.48 568.66 L1349.8 566.68 L1350.13 564.7 L1350.47 562.72 L1350.81 560.74 L1351.15 558.77 L1351.5 556.79 L1351.85 554.81 L1352.21 552.84 L1352.58 550.86 L1352.94 548.89 L1353.32 546.91 L1353.7 544.94 L1354.08 542.97 L1354.47 541 L1354.87 539.03 L1355.27 537.06 L1355.67 535.09 L1356.08 533.12 L1356.49 531.15 L1356.91 529.18 L1357.34 527.21 L1357.77 525.25 L1358.2 523.28 L1358.64 521.32 L1359.09 519.35 L1359.54 517.39 L1359.99 515.43 L1360.45 513.46 L1360.91 511.5 L1361.38 509.54 L1361.86 507.58 L1362.34 505.62 L1362.82 503.66 L1363.31 501.7 L1363.8 499.74 L1364.3 497.79 L1364.81 495.83 L1365.31 493.87 L1365.83 491.92 L1366.35 489.96 L1366.87 488.01 L1367.4 486.06 L1367.93 484.1 L1368.47 482.15 L1369.02 480.2 L1369.57 478.26 L1370.14 476.31 L1370.7 474.37 L1371.28 472.43 L1371.87 470.5 L1372.46 468.57 L1373.06 466.64 L1373.67 464.71 L1374.29 462.79 L1374.92 460.88 L1375.57 458.96 L1376.22 457.06 L1376.88 455.15 L1377.55 453.26 L1378.24 451.37 L1378.94 449.48 L1379.65 447.6 L1380.37 445.73 L1381.1 443.86 L1381.85 442 L1382.61 440.15 L1383.39 438.3 L1384.18 436.47 L1384.99 434.64 L1385.81 432.81 L1386.64 431 L1387.49 429.19 L1388.36 427.4 L1389.25 425.61 L1390.15 423.83 L1391.06 422.07 L1392 420.31 L1392.95 418.56 L1393.92 416.82 L1394.91 415.09 L1395.92 413.38 L1396.94 411.67 L1397.99 409.97 L1399.04 408.28 L1400.12 406.61 L1401.21 404.94 L1402.31 403.28 L1403.43 401.62 L1404.57 399.98 L1405.71 398.35 L1406.87 396.72 L1408.04 395.1 L1409.22 393.48 L1410.42 391.88 L1411.62 390.28 L1412.83 388.68 L1414.05 387.09 L1415.29 385.51 L1416.53 383.93 L1417.77 382.36 L1419.03 380.8 L1420.29 379.23 L1421.55 377.67 L1422.83 376.12 L1424.1 374.57 L1425.38 373.02 L1426.67 371.48 L1427.96 369.94 L1429.25 368.4 L1430.54 366.86 L1431.84 365.33 L1433.13 363.8 L1434.43 362.26 L1435.72 360.73 L1437.02 359.2 L1438.32 357.67 L1439.61 356.14 L1440.9 354.61 L1442.19 353.07 L1443.48 351.53 L1444.77 349.99 L1446.05 348.45 L1447.33 346.91 L1448.6 345.36 L1449.87 343.8 L1451.13 342.25 L1452.39 340.68 L1453.64 339.12 L1454.88 337.54 L1456.12 335.96 L1457.35 334.38 L1458.57 332.78 L1459.78 331.18 L1460.98 329.57 L1462.17 327.95 L1463.35 326.33 L1464.53 324.69 L1465.69 323.05 L1466.84 321.39 L1467.98 319.73 L1469.12 318.06 L1470.24 316.39 L1471.36 314.71 L1472.47 313.02 L1473.58 311.32 L1474.68 309.62 L1475.77 307.91 L1476.86 306.2 L1477.94 304.48 L1479.02 302.76 L1480.09 301.03 L1481.16 299.3 L1482.23 297.57 L1483.3 295.84 L1484.37 294.1 L1485.44 292.37 L1486.51 290.64 L1487.58 288.91 L1488.65 287.19 L1489.73 285.46 L1490.82 283.75 L1491.91 282.04 L1493.01 280.34 L1494.11 278.64 L1495.23 276.96 L1496.35 275.28 L1497.48 273.62 L1498.63 271.97 L1499.79 270.33 L1500.96 268.71 L1502.14 267.1 L1503.34 265.5 L1504.55 263.92 L1505.78 262.37 L1507.03 260.82 L1508.3 259.3 L1509.59 257.8 L1510.89 256.32 L1512.22 254.87 L1513.57 253.43 L1514.94 252.02 L1516.33 250.64 L1517.74 249.27 L1519.17 247.93 L1520.63 246.61 L1522.1 245.31 L1523.59 244.04 L1525.1 242.79 L1526.63 241.56 L1528.17 240.35 L1529.74 239.16 L1531.32 238 L1532.92 236.86 L1534.54 235.73 L1536.17 234.64 L1537.82 233.56 L1539.49 232.5 L1541.17 231.47 L1542.87 230.46 L1544.58 229.46 L1546.31 228.49 L1548.05 227.54 L1549.81 226.61 L1551.58 225.7 L1553.36 224.81 L1555.16 223.95 L1556.97 223.1 L1558.79 222.27 L1560.63 221.47 L1562.47 220.68 L1564.33 219.91 L1566.2 219.17 L1568.08 218.44 L1569.97 217.73 L1571.87 217.05 L1573.78 216.38 L1575.7 215.73 L1577.63 215.1 L1579.57 214.49 L1581.52 213.9 L1583.47 213.32 L1585.44 212.77 L1587.4 212.23 L1589.38 211.7 L1591.36 211.19 L1593.34 210.7 L1595.33 210.22 L1597.32 209.75 L1599.31 209.29 L1601.31 208.84 L1603.3 208.41 L1605.3 207.98 L1607.3 207.56 L1609.29 207.16 L1611.29 206.76 L1613.28 206.36 L1615.27 205.97 L1617.25 205.59 L1619.24 205.21 L1621.21 204.84 L1623.18 204.47 L1625.15 204.1 L1627.11 203.74 L1629.06 203.37 L1631 203.01" fill="none" stroke="#ff0000" stroke-width="6" stroke-dasharray="19.13 36.65" stroke-dashoffset="52.62" stroke-linejoin="round" stroke-linecap="round"/></g>
<rect x="1250.9" y="91.8" width="380.15" height="590.2" fill="none" stroke="#000" stroke-width="2.2"/>
<path d="M1250.9 682v11.6M1250.9 91.8v10.6M1326.93 682v11.6M1326.93 91.8v10.6M1402.96 682v11.6M1402.96 91.8v10.6M1478.99 682v11.6M1478.99 91.8v10.6M1555.02 682v11.6M1555.02 91.8v10.6M1631.05 682v11.6M1631.05 91.8v10.6M1288.91 682v5.4M1288.91 91.8v5M1364.95 682v5.4M1364.95 91.8v5M1440.97 682v5.4M1440.97 91.8v5M1517.01 682v5.4M1517.01 91.8v5M1593.03 682v5.4M1593.03 91.8v5M1250.9 682h-11.8M1631.05 682h-11.6M1250.9 656.62h-6.2M1631.05 656.62h-6.2M1250.9 641.77h-6.2M1631.05 641.77h-6.2M1250.9 631.24h-6.2M1631.05 631.24h-6.2M1250.9 623.07h-6.2M1631.05 623.07h-6.2M1250.9 616.39h-6.2M1631.05 616.39h-6.2M1250.9 610.75h-6.2M1631.05 610.75h-6.2M1250.9 605.86h-6.2M1631.05 605.86h-6.2M1250.9 601.54h-6.2M1631.05 601.54h-6.2M1250.9 597.69h-11.8M1631.05 597.69h-11.6M1250.9 572.3h-6.2M1631.05 572.3h-6.2M1250.9 557.46h-6.2M1631.05 557.46h-6.2M1250.9 546.92h-6.2M1631.05 546.92h-6.2M1250.9 538.75h-6.2M1631.05 538.75h-6.2M1250.9 532.08h-6.2M1631.05 532.08h-6.2M1250.9 526.43h-6.2M1631.05 526.43h-6.2M1250.9 521.54h-6.2M1631.05 521.54h-6.2M1250.9 517.23h-6.2M1631.05 517.23h-6.2M1250.9 513.37h-11.8M1631.05 513.37h-11.6M1250.9 487.99h-6.2M1631.05 487.99h-6.2M1250.9 473.14h-6.2M1631.05 473.14h-6.2M1250.9 462.61h-6.2M1631.05 462.61h-6.2M1250.9 454.44h-6.2M1631.05 454.44h-6.2M1250.9 447.76h-6.2M1631.05 447.76h-6.2M1250.9 442.12h-6.2M1631.05 442.12h-6.2M1250.9 437.23h-6.2M1631.05 437.23h-6.2M1250.9 432.92h-6.2M1631.05 432.92h-6.2M1250.9 429.06h-11.8M1631.05 429.06h-11.6M1250.9 403.68h-6.2M1631.05 403.68h-6.2M1250.9 388.83h-6.2M1631.05 388.83h-6.2M1250.9 378.29h-6.2M1631.05 378.29h-6.2M1250.9 370.12h-6.2M1631.05 370.12h-6.2M1250.9 363.45h-6.2M1631.05 363.45h-6.2M1250.9 357.8h-6.2M1631.05 357.8h-6.2M1250.9 352.91h-6.2M1631.05 352.91h-6.2M1250.9 348.6h-6.2M1631.05 348.6h-6.2M1250.9 344.74h-11.8M1631.05 344.74h-11.6M1250.9 319.36h-6.2M1631.05 319.36h-6.2M1250.9 304.51h-6.2M1631.05 304.51h-6.2M1250.9 293.98h-6.2M1631.05 293.98h-6.2M1250.9 285.81h-6.2M1631.05 285.81h-6.2M1250.9 279.13h-6.2M1631.05 279.13h-6.2M1250.9 273.49h-6.2M1631.05 273.49h-6.2M1250.9 268.6h-6.2M1631.05 268.6h-6.2M1250.9 264.29h-6.2M1631.05 264.29h-6.2M1250.9 260.43h-11.8M1631.05 260.43h-11.6M1250.9 235.05h-6.2M1631.05 235.05h-6.2M1250.9 220.2h-6.2M1631.05 220.2h-6.2M1250.9 209.67h-6.2M1631.05 209.67h-6.2M1250.9 201.5h-6.2M1631.05 201.5h-6.2M1250.9 194.82h-6.2M1631.05 194.82h-6.2M1250.9 189.17h-6.2M1631.05 189.17h-6.2M1250.9 184.29h-6.2M1631.05 184.29h-6.2M1250.9 179.97h-6.2M1631.05 179.97h-6.2M1250.9 176.11h-11.8M1631.05 176.11h-11.6M1250.9 150.73h-6.2M1631.05 150.73h-6.2M1250.9 135.89h-6.2M1631.05 135.89h-6.2M1250.9 125.35h-6.2M1631.05 125.35h-6.2M1250.9 117.18h-6.2M1631.05 117.18h-6.2M1250.9 110.51h-6.2M1631.05 110.51h-6.2M1250.9 104.86h-6.2M1631.05 104.86h-6.2M1250.9 99.97h-6.2M1631.05 99.97h-6.2M1250.9 95.66h-6.2M1631.05 95.66h-6.2M1250.9 91.8h-11.8M1631.05 91.8h-11.6" stroke="#000" stroke-width="2" stroke-linecap="round" fill="none"/>
<text x="1231.5" y="689.1" text-anchor="end" class="tl">1E-12</text>
<text x="1231.5" y="604.79" text-anchor="end" class="tl">1E-11</text>
<text x="1231.5" y="520.47" text-anchor="end" class="tl">1E-10</text>
<text x="1231.5" y="436.16" text-anchor="end" class="tl">1E-9</text>
<text x="1231.5" y="351.84" text-anchor="end" class="tl">1E-8</text>
<text x="1231.5" y="267.53" text-anchor="end" class="tl">1E-7</text>
<text x="1231.5" y="183.21" text-anchor="end" class="tl">1E-6</text>
<text x="1231.5" y="98.9" text-anchor="end" class="tl">1E-5</text>
<text x="1250.9" y="720.6" text-anchor="middle" class="tl">-5</text>
<text x="1326.93" y="720.6" text-anchor="middle" class="tl">0</text>
<text x="1402.96" y="720.6" text-anchor="middle" class="tl">5</text>
<text x="1478.99" y="720.6" text-anchor="middle" class="tl">10</text>
<text x="1555.02" y="720.6" text-anchor="middle" class="tl">15</text>
<text x="1631.05" y="720.6" text-anchor="middle" class="tl">20</text>
<text x="1404.5" y="768.2" class="at">V<tspan class="sub" dy="10.5">g</tspan><tspan dy="-10.5">(V)</tspan></text>
<text transform="translate(1154.5 403.1) rotate(-90)" class="at">I<tspan class="sub" dx="-0.6" dy="10.5">ds</tspan><tspan dx="-0.7" dy="-10.5">(A)</tspan></text>
<clipPath id="clip3"><rect x="120.3" y="860.5" width="380.1" height="590.35"/></clipPath>
<line x1="158.31" y1="861.5" x2="158.31" y2="1450.85" stroke="#c8c8c8" stroke-width="1.3" stroke-dasharray="2 3"/>
<line x1="234.33" y1="861.5" x2="234.33" y2="1450.85" stroke="#c8c8c8" stroke-width="1.3" stroke-dasharray="2 3"/>
<line x1="310.35" y1="861.5" x2="310.35" y2="1450.85" stroke="#c8c8c8" stroke-width="1.3" stroke-dasharray="2 3"/>
<line x1="386.37" y1="861.5" x2="386.37" y2="1450.85" stroke="#c8c8c8" stroke-width="1.3" stroke-dasharray="2 3"/>
<line x1="462.39" y1="861.5" x2="462.39" y2="1450.85" stroke="#c8c8c8" stroke-width="1.3" stroke-dasharray="2 3"/>
<line x1="196.32" y1="860.5" x2="196.32" y2="1450.85" stroke="#a8a8a8" stroke-width="1.2"/>
<line x1="272.34" y1="860.5" x2="272.34" y2="1450.85" stroke="#a8a8a8" stroke-width="1.2"/>
<line x1="348.36" y1="860.5" x2="348.36" y2="1450.85" stroke="#a8a8a8" stroke-width="1.2"/>
<line x1="424.38" y1="860.5" x2="424.38" y2="1450.85" stroke="#a8a8a8" stroke-width="1.2"/>
<g clip-path="url(#clip3)"><path d="M166 1455 L166.1 1454.66 L166.23 1454.26 L166.37 1453.78 L166.54 1453.22 L166.73 1452.58 L166.96 1451.87 L167.21 1451.08 L167.5 1450.2 L167.83 1449.2 L168.22 1448.06 L168.64 1446.82 L169.08 1445.51 L169.54 1444.17 L170.01 1442.83 L170.46 1441.53 L170.9 1440.3 L171.35 1439.07 L171.83 1437.78 L172.32 1436.46 L172.81 1435.18 L173.27 1433.98 L173.69 1432.9 L174.04 1431.99 L174.29 1431.3 L174.75 1429.35 L175.2 1427.4 L175.65 1425.46 L176.09 1423.51 L176.52 1421.56 L176.95 1419.6 L177.38 1417.65 L177.79 1415.69 L178.2 1413.74 L178.61 1411.78 L179.01 1409.82 L179.41 1407.86 L179.8 1405.9 L180.18 1403.93 L180.56 1401.97 L180.93 1400 L181.3 1398.04 L181.67 1396.07 L182.03 1394.1 L182.38 1392.13 L182.73 1390.16 L183.08 1388.18 L183.42 1386.21 L183.76 1384.23 L184.09 1382.26 L184.42 1380.28 L184.75 1378.3 L185.07 1376.32 L185.39 1374.34 L185.7 1372.36 L186.01 1370.38 L186.32 1368.4 L186.62 1366.42 L186.92 1364.43 L187.22 1362.45 L187.51 1360.46 L187.8 1358.47 L188.09 1356.49 L188.37 1354.5 L188.65 1352.51 L188.93 1350.52 L189.21 1348.53 L189.48 1346.54 L189.76 1344.55 L190.02 1342.55 L190.29 1340.56 L190.56 1338.57 L190.82 1336.57 L191.08 1334.58 L191.34 1332.58 L191.6 1330.59 L191.85 1328.59 L192.11 1326.6 L192.36 1324.6 L192.61 1322.6 L192.86 1320.61 L193.11 1318.61 L193.36 1316.61 L193.6 1314.61 L193.85 1312.61 L194.09 1310.62 L194.34 1308.62 L194.58 1306.62 L194.82 1304.62 L195.06 1302.62 L195.31 1300.62 L195.55 1298.62 L195.79 1296.62 L196.03 1294.62 L196.27 1292.62 L196.51 1290.62 L196.75 1288.62 L196.99 1286.62 L197.24 1284.62 L197.48 1282.62 L197.72 1280.62 L197.97 1278.62 L198.21 1276.62 L198.46 1274.62 L198.7 1272.63 L198.95 1270.63 L199.2 1268.63 L199.45 1266.63 L199.7 1264.63 L199.95 1262.63 L200.21 1260.64 L200.46 1258.64 L200.72 1256.64 L200.98 1254.65 L201.24 1252.65 L201.5 1250.66 L201.76 1248.66 L202.03 1246.67 L202.3 1244.67 L202.57 1242.68 L202.85 1240.69 L203.12 1238.69 L203.4 1236.7 L203.68 1234.71 L203.97 1232.72 L204.25 1230.73 L204.54 1228.74 L204.84 1226.75 L205.13 1224.77 L205.43 1222.78 L205.74 1220.79 L206.04 1218.81 L206.35 1216.82 L206.67 1214.84 L206.98 1212.86 L207.3 1210.88 L207.63 1208.89 L207.96 1206.91 L208.29 1204.94 L208.63 1202.96 L208.97 1200.98 L209.32 1199 L209.67 1197.03 L210.02 1195.06 L210.38 1193.08 L210.75 1191.11 L211.11 1189.14 L211.49 1187.17 L211.87 1185.2 L212.25 1183.24 L212.64 1181.27 L213.04 1179.3 L213.44 1177.34 L213.84 1175.38 L214.25 1173.42 L214.67 1171.46 L215.09 1169.5 L215.52 1167.54 L215.95 1165.59 L216.39 1163.63 L216.84 1161.68 L217.29 1159.73 L217.75 1157.78 L218.22 1155.83 L218.69 1153.89 L219.17 1151.94 L219.65 1150 L220.15 1148.06 L220.65 1146.12 L221.15 1144.18 L221.66 1142.24 L222.18 1140.31 L222.71 1138.37 L223.25 1136.44 L223.79 1134.51 L224.34 1132.58 L224.89 1130.66 L225.46 1128.73 L226.03 1126.81 L226.61 1124.89 L227.2 1122.97 L227.8 1121.05 L228.4 1119.14 L229.02 1117.23 L229.64 1115.32 L230.27 1113.41 L230.91 1111.5 L231.56 1109.6 L232.21 1107.7 L232.88 1105.8 L233.56 1103.91 L234.25 1102.02 L234.95 1100.14 L235.67 1098.26 L236.4 1096.39 L237.14 1094.53 L237.9 1092.67 L238.67 1090.82 L239.45 1088.98 L240.25 1087.15 L241.07 1085.33 L241.91 1083.51 L242.76 1081.71 L243.63 1079.92 L244.51 1078.14 L245.42 1076.37 L246.35 1074.61 L247.29 1072.87 L248.26 1071.14 L249.25 1069.42 L250.25 1067.72 L251.28 1066.03 L252.34 1064.36 L253.41 1062.7 L254.51 1061.06 L255.64 1059.43 L256.79 1057.82 L257.96 1056.23 L259.16 1054.66 L260.38 1053.11 L261.63 1051.57 L262.9 1050.05 L264.2 1048.55 L265.52 1047.07 L266.86 1045.6 L268.22 1044.15 L269.6 1042.72 L271 1041.31 L272.42 1039.91 L273.86 1038.53 L275.32 1037.17 L276.8 1035.82 L278.29 1034.49 L279.81 1033.18 L281.33 1031.88 L282.88 1030.6 L284.43 1029.34 L286.01 1028.09 L287.59 1026.86 L289.19 1025.64 L290.8 1024.44 L292.43 1023.26 L294.06 1022.09 L295.71 1020.94 L297.37 1019.8 L299.03 1018.68 L300.71 1017.58 L302.39 1016.49 L304.09 1015.41 L305.79 1014.35 L307.5 1013.31 L309.22 1012.28 L310.94 1011.26 L312.68 1010.26 L314.42 1009.27 L316.17 1008.3 L317.93 1007.34 L319.69 1006.4 L321.47 1005.47 L323.25 1004.55 L325.03 1003.64 L326.83 1002.75 L328.63 1001.87 L330.44 1001 L332.25 1000.15 L334.07 999.31 L335.9 998.48 L337.73 997.66 L339.57 996.86 L341.42 996.06 L343.27 995.28 L345.13 994.51 L346.99 993.75 L348.86 993 L350.73 992.26 L352.61 991.54 L354.5 990.82 L356.39 990.12 L358.28 989.42 L360.18 988.74 L362.08 988.06 L363.99 987.4 L365.9 986.74 L367.82 986.09 L369.74 985.46 L371.66 984.83 L373.59 984.21 L375.52 983.6 L377.46 983 L379.4 982.41 L381.34 981.82 L383.29 981.25 L385.23 980.68 L387.19 980.12 L389.14 979.57 L391.1 979.02 L393.06 978.48 L395.02 977.95 L396.98 977.43 L398.95 976.91 L400.92 976.4 L402.89 975.9 L404.86 975.4 L406.83 974.91 L408.81 974.43 L410.78 973.95 L412.76 973.48 L414.74 973.01 L416.72 972.55 L418.7 972.09 L420.68 971.64 L422.67 971.19 L424.65 970.75 L426.63 970.31 L428.61 969.88 L430.6 969.45 L432.58 969.03 L434.56 968.61 L436.55 968.19 L438.53 967.78 L440.51 967.37 L442.49 966.96 L444.47 966.56 L446.45 966.16 L448.43 965.76 L450.41 965.36 L452.39 964.97 L454.36 964.58 L456.33 964.19 L458.31 963.81 L460.28 963.42 L462.24 963.04 L464.21 962.66 L466.17 962.28 L468.13 961.9 L470.09 961.53 L472.05 961.15 L474 960.77 L475.95 960.4 L477.9 960.02 L479.84 959.65 L481.79 959.28 L483.72 958.9 L485.66 958.53 L487.59 958.15 L489.52 957.77 L491.44 957.4 L493.36 957.02 L495.28 956.64 L497.19 956.26 L499.09 955.88 L501 955.5" fill="none" stroke="#000" stroke-width="2.9" stroke-linejoin="round" stroke-linecap="round"/><path d="M180.9 1432.9 L181.15 1430.89 L181.4 1428.88 L181.65 1426.88 L181.9 1424.87 L182.15 1422.86 L182.4 1420.86 L182.65 1418.86 L182.9 1416.85 L183.15 1414.85 L183.4 1412.85 L183.66 1410.85 L183.91 1408.85 L184.16 1406.85 L184.41 1404.86 L184.66 1402.86 L184.92 1400.86 L185.17 1398.87 L185.42 1396.88 L185.68 1394.88 L185.93 1392.89 L186.18 1390.9 L186.44 1388.91 L186.69 1386.92 L186.94 1384.93 L187.2 1382.94 L187.45 1380.95 L187.71 1378.96 L187.96 1376.97 L188.21 1374.99 L188.47 1373 L188.72 1371.01 L188.98 1369.03 L189.23 1367.04 L189.48 1365.06 L189.74 1363.07 L189.99 1361.09 L190.24 1359.11 L190.5 1357.12 L190.75 1355.14 L191.01 1353.16 L191.26 1351.17 L191.51 1349.19 L191.77 1347.21 L192.02 1345.23 L192.27 1343.25 L192.52 1341.27 L192.78 1339.29 L193.03 1337.31 L193.28 1335.32 L193.53 1333.34 L193.79 1331.36 L194.04 1329.38 L194.29 1327.4 L194.54 1325.42 L194.79 1323.44 L195.04 1321.46 L195.29 1319.48 L195.54 1317.5 L195.79 1315.52 L196.04 1313.54 L196.29 1311.56 L196.54 1309.58 L196.79 1307.6 L197.03 1305.61 L197.28 1303.63 L197.53 1301.65 L197.78 1299.67 L198.02 1297.69 L198.27 1295.7 L198.52 1293.72 L198.76 1291.74 L199.01 1289.75 L199.25 1287.77 L199.49 1285.79 L199.74 1283.8 L199.98 1281.82 L200.22 1279.83 L200.47 1277.84 L200.71 1275.86 L200.95 1273.87 L201.19 1271.88 L201.43 1269.89 L201.67 1267.91 L201.91 1265.92 L202.15 1263.93 L202.38 1261.94 L202.62 1259.95 L202.86 1257.95 L203.1 1255.96 L203.34 1253.97 L203.58 1251.98 L203.82 1249.98 L204.06 1247.99 L204.3 1245.99 L204.55 1244 L204.79 1242 L205.04 1240 L205.28 1238.01 L205.53 1236.01 L205.78 1234.01 L206.04 1232.01 L206.29 1230.01 L206.55 1228.02 L206.81 1226.02 L207.07 1224.02 L207.34 1222.01 L207.61 1220.01 L207.88 1218.01 L208.16 1216.01 L208.43 1214.01 L208.72 1212 L209 1210 L209.29 1208 L209.58 1205.99 L209.88 1203.99 L210.18 1201.98 L210.49 1199.97 L210.8 1197.97 L211.11 1195.96 L211.43 1193.96 L211.76 1191.95 L212.09 1189.94 L212.42 1187.93 L212.76 1185.92 L213.11 1183.92 L213.46 1181.91 L213.82 1179.9 L214.19 1177.89 L214.56 1175.89 L214.94 1173.88 L215.32 1171.88 L215.72 1169.88 L216.12 1167.88 L216.53 1165.88 L216.96 1163.88 L217.38 1161.89 L217.82 1159.9 L218.27 1157.91 L218.73 1155.93 L219.2 1153.95 L219.68 1151.98 L220.17 1150 L220.67 1148.04 L221.18 1146.08 L221.71 1144.12 L222.24 1142.17 L222.79 1140.22 L223.35 1138.28 L223.93 1136.34 L224.52 1134.41 L225.12 1132.49 L225.73 1130.57 L226.36 1128.66 L227.01 1126.76 L227.67 1124.87 L228.34 1122.98 L229.03 1121.1 L229.73 1119.23 L230.45 1117.37 L231.19 1115.51 L231.94 1113.67 L232.71 1111.83 L233.5 1110 L234.3 1108.18 L235.13 1106.38 L235.97 1104.58 L236.83 1102.79 L237.7 1101.01 L238.6 1099.25 L239.51 1097.49 L240.44 1095.74 L241.39 1094.01 L242.35 1092.28 L243.33 1090.57 L244.33 1088.87 L245.35 1087.17 L246.38 1085.49 L247.43 1083.82 L248.49 1082.16 L249.58 1080.51 L250.67 1078.87 L251.79 1077.24 L252.92 1075.62 L254.06 1074.01 L255.22 1072.42 L256.4 1070.83 L257.59 1069.26 L258.8 1067.7 L260.02 1066.15 L261.26 1064.61 L262.51 1063.08 L263.77 1061.56 L265.05 1060.06 L266.35 1058.56 L267.66 1057.08 L268.98 1055.61 L270.32 1054.15 L271.66 1052.7 L273.03 1051.26 L274.4 1049.83 L275.79 1048.42 L277.2 1047.02 L278.61 1045.63 L280.04 1044.25 L281.48 1042.88 L282.94 1041.53 L284.4 1040.19 L285.88 1038.86 L287.37 1037.54 L288.87 1036.23 L290.39 1034.94 L291.91 1033.66 L293.45 1032.39 L295 1031.13 L296.56 1029.88 L298.13 1028.65 L299.71 1027.43 L301.3 1026.22 L302.9 1025.03 L304.52 1023.84 L306.14 1022.67 L307.77 1021.51 L309.42 1020.37 L311.07 1019.24 L312.73 1018.12 L314.41 1017.01 L316.09 1015.91 L317.78 1014.83 L319.48 1013.76 L321.19 1012.71 L322.91 1011.66 L324.63 1010.63 L326.37 1009.62 L328.11 1008.61 L329.86 1007.62 L331.62 1006.65 L333.39 1005.68 L335.16 1004.73 L336.95 1003.79 L338.74 1002.87 L340.54 1001.96 L342.34 1001.06 L344.15 1000.18 L345.97 999.31 L347.8 998.45 L349.63 997.61 L351.47 996.78 L353.31 995.96 L355.16 995.16 L357.02 994.37 L358.88 993.6 L360.75 992.84 L362.63 992.09 L364.51 991.35 L366.39 990.63 L368.28 989.92 L370.18 989.22 L372.08 988.53 L373.98 987.86 L375.89 987.19 L377.81 986.54 L379.72 985.9 L381.65 985.26 L383.57 984.64 L385.5 984.03 L387.44 983.43 L389.37 982.84 L391.31 982.26 L393.26 981.68 L395.21 981.12 L397.16 980.56 L399.11 980.01 L401.06 979.47 L403.02 978.94 L404.98 978.42 L406.95 977.9 L408.91 977.39 L410.88 976.89 L412.85 976.4 L414.82 975.91 L416.79 975.42 L418.76 974.95 L420.74 974.47 L422.71 974.01 L424.69 973.55 L426.67 973.09 L428.65 972.64 L430.63 972.19 L432.6 971.75 L434.58 971.31 L436.56 970.88 L438.54 970.44 L440.52 970.02 L442.5 969.59 L444.48 969.17 L446.46 968.75 L448.43 968.33 L450.41 967.91 L452.38 967.5 L454.36 967.09 L456.33 966.68 L458.3 966.26 L460.27 965.86 L462.24 965.45 L464.2 965.04 L466.17 964.63 L468.13 964.22 L470.09 963.81 L472.05 963.4 L474 962.99 L475.95 962.58 L477.9 962.16 L479.84 961.75 L481.79 961.33 L483.72 960.91 L485.66 960.49 L487.59 960.06 L489.52 959.64 L491.44 959.21 L493.36 958.77 L495.28 958.33 L497.19 957.89 L499.09 957.45 L500.99 957" fill="none" stroke="#0000ff" stroke-width="6" stroke-dasharray="19.30 36.18" stroke-dashoffset="52.60" stroke-linejoin="round" stroke-linecap="round"/><path d="M219.81 1150 L220.15 1148.03 L220.5 1146.05 L220.86 1144.06 L221.24 1142.08 L221.63 1140.1 L222.04 1138.12 L222.47 1136.14 L222.9 1134.17 L223.36 1132.19 L223.82 1130.21 L224.31 1128.24 L224.81 1126.27 L225.33 1124.31 L225.86 1122.35 L226.41 1120.39 L226.97 1118.43 L227.56 1116.49 L228.16 1114.54 L228.77 1112.6 L229.41 1110.67 L230.06 1108.75 L230.73 1106.83 L231.42 1104.91 L232.13 1103.01 L232.85 1101.11 L233.6 1099.23 L234.36 1097.35 L235.14 1095.48 L235.94 1093.62 L236.76 1091.76 L237.61 1089.92 L238.47 1088.09 L239.35 1086.27 L240.25 1084.47 L241.17 1082.67 L242.12 1080.89 L243.08 1079.12 L244.07 1077.36 L245.08 1075.61 L246.11 1073.88 L247.16 1072.17 L248.23 1070.46 L249.32 1068.78 L250.44 1067.1 L251.57 1065.44 L252.73 1063.8 L253.9 1062.17 L255.1 1060.55 L256.31 1058.95 L257.54 1057.37 L258.79 1055.8 L260.06 1054.24 L261.35 1052.7 L262.66 1051.18 L263.98 1049.67 L265.32 1048.18 L266.67 1046.7 L268.05 1045.24 L269.43 1043.79 L270.84 1042.36 L272.26 1040.94 L273.69 1039.55 L275.14 1038.16 L276.6 1036.8 L278.08 1035.45 L279.57 1034.11 L281.07 1032.8 L282.59 1031.5 L284.12 1030.21 L285.66 1028.95 L287.21 1027.7 L288.78 1026.46 L290.35 1025.25 L291.94 1024.05 L293.54 1022.86 L295.15 1021.69 L296.77 1020.54 L298.41 1019.41 L300.05 1018.29 L301.7 1017.18 L303.37 1016.09 L305.04 1015.02 L306.73 1013.96 L308.42 1012.91 L310.12 1011.88 L311.84 1010.87 L313.56 1009.87 L315.29 1008.88 L317.04 1007.91 L318.79 1006.95 L320.55 1006 L322.31 1005.07 L324.09 1004.15 L325.87 1003.25 L327.67 1002.35 L329.47 1001.47 L331.28 1000.61 L333.09 999.75 L334.92 998.91 L336.75 998.08 L338.59 997.26 L340.44 996.46 L342.29 995.66 L344.15 994.88 L346.01 994.11 L347.89 993.35 L349.77 992.6 L351.65 991.87 L353.54 991.14 L355.44 990.42 L357.34 989.72 L359.25 989.02 L361.16 988.34 L363.08 987.66 L365.01 987 L366.93 986.34 L368.87 985.69 L370.81 985.06 L372.75 984.43 L374.7 983.81 L376.65 983.2 L378.6 982.6 L380.56 982 L382.52 981.42 L384.49 980.84 L386.46 980.28 L388.43 979.71 L390.4 979.16 L392.38 978.62 L394.36 978.08 L396.35 977.55 L398.33 977.02 L400.32 976.51 L402.31 976 L404.3 975.49 L406.3 975 L408.29 974.51 L410.29 974.02 L412.29 973.54 L414.28 973.07 L416.28 972.6 L418.29 972.14 L420.29 971.68 L422.29 971.23 L424.29 970.78 L426.29 970.34 L428.3 969.91 L430.3 969.47 L432.3 969.04 L434.3 968.62 L436.31 968.2 L438.31 967.78 L440.31 967.37 L442.3 966.96 L444.3 966.55 L446.3 966.15 L448.29 965.75 L450.29 965.35 L452.28 964.96 L454.27 964.57 L456.25 964.18 L458.24 963.79 L460.22 963.41 L462.2 963.02 L464.17 962.64 L466.15 962.26 L468.12 961.88 L470.09 961.5 L472.05 961.13 L474.01 960.75 L475.97 960.38 L477.92 960 L479.87 959.63 L481.81 959.26 L483.75 958.88 L485.69 958.51 L487.62 958.13 L489.55 957.76 L491.47 957.39 L493.38 957.01 L495.3 956.63 L497.2 956.26 L499.1 955.88 L500.99 955.5 L500.99 957 L499.07 957.4 L497.14 957.8 L495.21 958.19 L493.28 958.59 L491.34 958.99 L489.4 959.39 L487.45 959.78 L485.5 960.18 L483.55 960.58 L481.59 960.98 L479.64 961.38 L477.68 961.78 L475.71 962.18 L473.75 962.58 L471.78 962.99 L469.81 963.39 L467.84 963.8 L465.86 964.21 L463.89 964.62 L461.91 965.03 L459.93 965.45 L457.95 965.87 L455.97 966.29 L453.98 966.71 L452 967.14 L450.02 967.57 L448.03 968.01 L446.04 968.45 L444.06 968.89 L442.07 969.33 L440.08 969.78 L438.1 970.24 L436.11 970.69 L434.12 971.16 L432.14 971.62 L430.15 972.1 L428.17 972.57 L426.18 973.06 L424.2 973.54 L422.22 974.04 L420.23 974.54 L418.25 975.04 L416.27 975.55 L414.3 976.07 L412.32 976.59 L410.35 977.12 L408.38 977.66 L406.41 978.2 L404.44 978.75 L402.47 979.31 L400.51 979.88 L398.55 980.45 L396.59 981.03 L394.64 981.62 L392.69 982.21 L390.74 982.82 L388.79 983.43 L386.85 984.05 L384.91 984.68 L382.98 985.32 L381.05 985.96 L379.12 986.62 L377.2 987.29 L375.28 987.96 L373.37 988.65 L371.46 989.34 L369.55 990.04 L367.65 990.76 L365.76 991.48 L363.87 992.22 L361.98 992.96 L360.1 993.72 L358.23 994.49 L356.36 995.27 L354.5 996.06 L352.64 996.86 L350.79 997.67 L348.94 998.49 L347.1 999.33 L345.27 1000.18 L343.44 1001.04 L341.62 1001.91 L339.81 1002.8 L338 1003.7 L336.21 1004.61 L334.41 1005.53 L332.63 1006.47 L330.85 1007.42 L329.08 1008.38 L327.32 1009.36 L325.57 1010.35 L323.82 1011.36 L322.08 1012.38 L320.35 1013.41 L318.63 1014.45 L316.92 1015.51 L315.21 1016.59 L313.52 1017.67 L311.83 1018.77 L310.16 1019.89 L308.49 1021.01 L306.83 1022.15 L305.18 1023.31 L303.55 1024.47 L301.92 1025.65 L300.3 1026.84 L298.7 1028.05 L297.1 1029.27 L295.51 1030.5 L293.94 1031.74 L292.38 1033 L290.82 1034.27 L289.28 1035.55 L287.75 1036.85 L286.24 1038.16 L284.73 1039.48 L283.24 1040.81 L281.76 1042.16 L280.29 1043.52 L278.83 1044.89 L277.39 1046.27 L275.96 1047.67 L274.54 1049.08 L273.14 1050.5 L271.75 1051.94 L270.37 1053.38 L269.01 1054.84 L267.66 1056.31 L266.32 1057.79 L265 1059.29 L263.69 1060.79 L262.4 1062.31 L261.12 1063.84 L259.86 1065.39 L258.61 1066.94 L257.38 1068.51 L256.16 1070.09 L254.96 1071.68 L253.78 1073.28 L252.61 1074.89 L251.45 1076.52 L250.31 1078.16 L249.19 1079.81 L248.09 1081.47 L247 1083.14 L245.93 1084.82 L244.87 1086.52 L243.83 1088.22 L242.81 1089.94 L241.81 1091.67 L240.83 1093.41 L239.86 1095.16 L238.91 1096.93 L237.98 1098.7 L237.07 1100.48 L236.17 1102.28 L235.3 1104.09 L234.44 1105.91 L233.6 1107.74 L232.78 1109.58 L231.98 1111.43 L231.2 1113.29 L230.44 1115.16 L229.7 1117.04 L228.98 1118.94 L228.28 1120.84 L227.6 1122.76 L226.94 1124.69 L226.3 1126.62 L225.68 1128.57 L225.09 1130.53 L224.51 1132.49 L223.95 1134.47 L223.42 1136.46 L222.91 1138.46 L222.42 1140.47 L221.95 1142.49 L221.5 1144.52 L221.08 1146.56 L220.68 1148.61 L220.3 1150.67 L219.94 1152.74 L219.61 1154.82 L219.29 1156.91 L219.01 1159.01 Z" fill="#69afe1" fill-opacity="0.5" stroke="none"/></g>
<rect x="120.3" y="860.5" width="380.1" height="590.35" fill="none" stroke="#000" stroke-width="2.2"/>
<path d="M120.3 1450.85v11.6M120.3 860.5v10.6M196.32 1450.85v11.6M196.32 860.5v10.6M272.34 1450.85v11.6M272.34 860.5v10.6M348.36 1450.85v11.6M348.36 860.5v10.6M424.38 1450.85v11.6M424.38 860.5v10.6M500.4 1450.85v11.6M500.4 860.5v10.6M158.31 1450.85v5.4M158.31 860.5v5M234.33 1450.85v5.4M234.33 860.5v5M310.35 1450.85v5.4M310.35 860.5v5M386.37 1450.85v5.4M386.37 860.5v5M462.39 1450.85v5.4M462.39 860.5v5M120.3 1450.85h-11.8M500.4 1450.85h-11.6M120.3 1425.46h-6.2M500.4 1425.46h-6.2M120.3 1410.61h-6.2M500.4 1410.61h-6.2M120.3 1400.07h-6.2M500.4 1400.07h-6.2M120.3 1391.9h-6.2M500.4 1391.9h-6.2M120.3 1385.22h-6.2M500.4 1385.22h-6.2M120.3 1379.58h-6.2M500.4 1379.58h-6.2M120.3 1374.69h-6.2M500.4 1374.69h-6.2M120.3 1370.37h-6.2M500.4 1370.37h-6.2M120.3 1366.51h-11.8M500.4 1366.51h-11.6M120.3 1341.13h-6.2M500.4 1341.13h-6.2M120.3 1326.28h-6.2M500.4 1326.28h-6.2M120.3 1315.74h-6.2M500.4 1315.74h-6.2M120.3 1307.57h-6.2M500.4 1307.57h-6.2M120.3 1300.89h-6.2M500.4 1300.89h-6.2M120.3 1295.24h-6.2M500.4 1295.24h-6.2M120.3 1290.35h-6.2M500.4 1290.35h-6.2M120.3 1286.04h-6.2M500.4 1286.04h-6.2M120.3 1282.18h-11.8M500.4 1282.18h-11.6M120.3 1256.79h-6.2M500.4 1256.79h-6.2M120.3 1241.94h-6.2M500.4 1241.94h-6.2M120.3 1231.4h-6.2M500.4 1231.4h-6.2M120.3 1223.23h-6.2M500.4 1223.23h-6.2M120.3 1216.55h-6.2M500.4 1216.55h-6.2M120.3 1210.91h-6.2M500.4 1210.91h-6.2M120.3 1206.02h-6.2M500.4 1206.02h-6.2M120.3 1201.7h-6.2M500.4 1201.7h-6.2M120.3 1197.84h-11.8M500.4 1197.84h-11.6M120.3 1172.46h-6.2M500.4 1172.46h-6.2M120.3 1157.6h-6.2M500.4 1157.6h-6.2M120.3 1147.07h-6.2M500.4 1147.07h-6.2M120.3 1138.89h-6.2M500.4 1138.89h-6.2M120.3 1132.22h-6.2M500.4 1132.22h-6.2M120.3 1126.57h-6.2M500.4 1126.57h-6.2M120.3 1121.68h-6.2M500.4 1121.68h-6.2M120.3 1117.37h-6.2M500.4 1117.37h-6.2M120.3 1113.51h-11.8M500.4 1113.51h-11.6M120.3 1088.12h-6.2M500.4 1088.12h-6.2M120.3 1073.27h-6.2M500.4 1073.27h-6.2M120.3 1062.73h-6.2M500.4 1062.73h-6.2M120.3 1054.56h-6.2M500.4 1054.56h-6.2M120.3 1047.88h-6.2M500.4 1047.88h-6.2M120.3 1042.24h-6.2M500.4 1042.24h-6.2M120.3 1037.34h-6.2M500.4 1037.34h-6.2M120.3 1033.03h-6.2M500.4 1033.03h-6.2M120.3 1029.17h-11.8M500.4 1029.17h-11.6M120.3 1003.78h-6.2M500.4 1003.78h-6.2M120.3 988.93h-6.2M500.4 988.93h-6.2M120.3 978.4h-6.2M500.4 978.4h-6.2M120.3 970.22h-6.2M500.4 970.22h-6.2M120.3 963.55h-6.2M500.4 963.55h-6.2M120.3 957.9h-6.2M500.4 957.9h-6.2M120.3 953.01h-6.2M500.4 953.01h-6.2M120.3 948.69h-6.2M500.4 948.69h-6.2M120.3 944.84h-11.8M500.4 944.84h-11.6M120.3 919.45h-6.2M500.4 919.45h-6.2M120.3 904.6h-6.2M500.4 904.6h-6.2M120.3 894.06h-6.2M500.4 894.06h-6.2M120.3 885.89h-6.2M500.4 885.89h-6.2M120.3 879.21h-6.2M500.4 879.21h-6.2M120.3 873.56h-6.2M500.4 873.56h-6.2M120.3 868.67h-6.2M500.4 868.67h-6.2M120.3 864.36h-6.2M500.4 864.36h-6.2M120.3 860.5h-11.8M500.4 860.5h-11.6" stroke="#000" stroke-width="2" stroke-linecap="round" fill="none"/>
<text x="100.9" y="1457.95" text-anchor="end" class="tl">1E-12</text>
<text x="100.9" y="1373.61" text-anchor="end" class="tl">1E-11</text>
<text x="100.9" y="1289.28" text-anchor="end" class="tl">1E-10</text>
<text x="100.9" y="1204.94" text-anchor="end" class="tl">1E-9</text>
<text x="100.9" y="1120.61" text-anchor="end" class="tl">1E-8</text>
<text x="100.9" y="1036.27" text-anchor="end" class="tl">1E-7</text>
<text x="100.9" y="951.94" text-anchor="end" class="tl">1E-6</text>
<text x="100.9" y="867.6" text-anchor="end" class="tl">1E-5</text>
<text x="120.3" y="1489.45" text-anchor="middle" class="tl">-5</text>
<text x="196.32" y="1489.45" text-anchor="middle" class="tl">0</text>
<text x="272.34" y="1489.45" text-anchor="middle" class="tl">5</text>
<text x="348.36" y="1489.45" text-anchor="middle" class="tl">10</text>
<text x="424.38" y="1489.45" text-anchor="middle" class="tl">15</text>
<text x="500.4" y="1489.45" text-anchor="middle" class="tl">20</text>
<text x="273.9" y="1537.05" class="at">V<tspan class="sub" dy="10.5">g</tspan><tspan dy="-10.5">(V)</tspan></text>
<text transform="translate(23.9 1171.8) rotate(-90)" class="at">I<tspan class="sub" dx="-0.6" dy="10.5">ds</tspan><tspan dx="-0.7" dy="-10.5">(A)</tspan></text>
<clipPath id="clip4"><rect x="690.85" y="860.2" width="380.2" height="589.9"/></clipPath>
<line x1="728.87" y1="861.2" x2="728.87" y2="1450.1" stroke="#c8c8c8" stroke-width="1.3" stroke-dasharray="2 3"/>
<line x1="804.91" y1="861.2" x2="804.91" y2="1450.1" stroke="#c8c8c8" stroke-width="1.3" stroke-dasharray="2 3"/>
<line x1="880.95" y1="861.2" x2="880.95" y2="1450.1" stroke="#c8c8c8" stroke-width="1.3" stroke-dasharray="2 3"/>
<line x1="956.99" y1="861.2" x2="956.99" y2="1450.1" stroke="#c8c8c8" stroke-width="1.3" stroke-dasharray="2 3"/>
<line x1="1033.03" y1="861.2" x2="1033.03" y2="1450.1" stroke="#c8c8c8" stroke-width="1.3" stroke-dasharray="2 3"/>
<line x1="766.89" y1="860.2" x2="766.89" y2="1450.1" stroke="#a8a8a8" stroke-width="1.2"/>
<line x1="842.93" y1="860.2" x2="842.93" y2="1450.1" stroke="#a8a8a8" stroke-width="1.2"/>
<line x1="918.97" y1="860.2" x2="918.97" y2="1450.1" stroke="#a8a8a8" stroke-width="1.2"/>
<line x1="995.01" y1="860.2" x2="995.01" y2="1450.1" stroke="#a8a8a8" stroke-width="1.2"/>
<g clip-path="url(#clip4)"><path d="M692 1437.3 L692.32 1437.73 L692.74 1438.36 L693.25 1439.12 L693.81 1439.92 L694.4 1440.72 L694.98 1441.42 L695.52 1441.98 L696 1442.3 L696.41 1442.38 L696.77 1442.27 L697.11 1442.02 L697.44 1441.67 L697.77 1441.28 L698.13 1440.89 L698.54 1440.55 L699 1440.3 L699.54 1440.15 L700.16 1440.05 L700.82 1439.98 L701.5 1439.92 L702.18 1439.85 L702.84 1439.74 L703.46 1439.56 L704 1439.3 L704.47 1438.86 L704.89 1438.23 L705.28 1437.49 L705.63 1436.74 L705.97 1436.05 L706.3 1435.53 L706.64 1435.25 L707 1435.3 L707.36 1435.79 L707.71 1436.69 L708.05 1437.86 L708.39 1439.17 L708.74 1440.51 L709.1 1441.72 L709.49 1442.7 L709.9 1443.3 L710.35 1443.49 L710.82 1443.39 L711.32 1443.06 L711.83 1442.61 L712.35 1442.12 L712.87 1441.68 L713.39 1441.38 L713.9 1441.3 L714.41 1441.47 L714.95 1441.82 L715.49 1442.28 L716.02 1442.8 L716.55 1443.32 L717.04 1443.78 L717.5 1444.13 L717.9 1444.3 L718.24 1444.33 L718.52 1444.29 L718.75 1444.18 L718.96 1443.99 L719.16 1443.71 L719.38 1443.34 L719.62 1442.87 L719.9 1442.3 L720.23 1441.57 L720.58 1440.65 L720.95 1439.61 L721.34 1438.49 L721.73 1437.34 L722.13 1436.23 L722.52 1435.2 L722.9 1434.3 L723.27 1433.52 L723.63 1432.82 L723.98 1432.16 L724.34 1431.55 L724.7 1430.97 L725.08 1430.41 L725.48 1429.86 L725.9 1429.3 L726.36 1428.8 L726.85 1428.39 L727.37 1428.03 L727.9 1427.67 L728.43 1427.27 L728.95 1426.77 L729.44 1426.13 L729.9 1425.3 L730.34 1424.18 L730.79 1422.78 L731.23 1421.2 L731.65 1419.55 L732.04 1417.93 L732.38 1416.44 L732.68 1415.2 L732.92 1414.31 L733.5 1412.37 L734.08 1410.44 L734.66 1408.5 L735.23 1406.57 L735.8 1404.63 L736.36 1402.7 L736.91 1400.76 L737.46 1398.82 L738.01 1396.89 L738.55 1394.95 L739.08 1393.01 L739.62 1391.07 L740.14 1389.13 L740.66 1387.19 L741.18 1385.25 L741.69 1383.3 L742.2 1381.36 L742.7 1379.42 L743.2 1377.47 L743.69 1375.53 L744.18 1373.58 L744.67 1371.64 L745.15 1369.69 L745.62 1367.74 L746.09 1365.79 L746.56 1363.84 L747.02 1361.9 L747.48 1359.94 L747.93 1357.99 L748.38 1356.04 L748.83 1354.09 L749.27 1352.14 L749.71 1350.18 L750.14 1348.23 L750.57 1346.27 L750.99 1344.31 L751.41 1342.36 L751.83 1340.4 L752.24 1338.44 L752.65 1336.48 L753.06 1334.52 L753.46 1332.56 L753.86 1330.6 L754.25 1328.63 L754.64 1326.67 L755.03 1324.7 L755.41 1322.74 L755.79 1320.77 L756.17 1318.81 L756.54 1316.84 L756.91 1314.87 L757.27 1312.9 L757.63 1310.93 L757.99 1308.96 L758.34 1306.98 L758.7 1305.01 L759.04 1303.04 L759.39 1301.06 L759.73 1299.09 L760.07 1297.11 L760.4 1295.13 L760.73 1293.15 L761.06 1291.17 L761.39 1289.19 L761.71 1287.21 L762.03 1285.23 L762.35 1283.24 L762.66 1281.26 L762.97 1279.27 L763.28 1277.28 L763.58 1275.3 L763.89 1273.31 L764.19 1271.32 L764.48 1269.33 L764.78 1267.34 L765.07 1265.34 L765.36 1263.35 L765.64 1261.35 L765.93 1259.36 L766.21 1257.36 L766.49 1255.36 L766.76 1253.36 L767.03 1251.36 L767.31 1249.36 L767.57 1247.36 L767.84 1245.36 L768.11 1243.35 L768.37 1241.35 L768.63 1239.34 L768.89 1237.33 L769.15 1235.33 L769.41 1233.32 L769.67 1231.31 L769.92 1229.3 L770.18 1227.29 L770.44 1225.28 L770.69 1223.27 L770.95 1221.26 L771.21 1219.25 L771.47 1217.24 L771.73 1215.23 L771.99 1213.22 L772.25 1211.22 L772.52 1209.21 L772.78 1207.2 L773.05 1205.19 L773.32 1203.18 L773.6 1201.17 L773.87 1199.17 L774.15 1197.16 L774.43 1195.16 L774.72 1193.15 L775.01 1191.15 L775.3 1189.15 L775.6 1187.15 L775.9 1185.15 L776.2 1183.15 L776.51 1181.15 L776.83 1179.15 L777.15 1177.16 L777.47 1175.16 L777.8 1173.17 L778.14 1171.18 L778.48 1169.19 L778.83 1167.21 L779.18 1165.22 L779.54 1163.24 L779.91 1161.26 L780.29 1159.28 L780.67 1157.3 L781.06 1155.33 L781.45 1153.36 L781.86 1151.39 L782.27 1149.42 L782.69 1147.46 L783.12 1145.49 L783.56 1143.53 L784 1141.58 L784.46 1139.62 L784.92 1137.67 L785.4 1135.72 L785.88 1133.78 L786.37 1131.84 L786.87 1129.9 L787.39 1127.96 L787.91 1126.03 L788.45 1124.1 L788.99 1122.17 L789.55 1120.25 L790.12 1118.33 L790.7 1116.42 L791.29 1114.51 L791.89 1112.6 L792.51 1110.7 L793.13 1108.8 L793.77 1106.9 L794.43 1105.01 L795.09 1103.12 L795.77 1101.24 L796.47 1099.36 L797.17 1097.48 L797.89 1095.61 L798.63 1093.75 L799.37 1091.89 L800.14 1090.03 L800.91 1088.18 L801.71 1086.33 L802.52 1084.49 L803.34 1082.65 L804.18 1080.83 L805.04 1079.01 L805.91 1077.2 L806.8 1075.4 L807.71 1073.61 L808.64 1071.83 L809.59 1070.06 L810.56 1068.31 L811.55 1066.57 L812.56 1064.84 L813.59 1063.13 L814.65 1061.44 L815.72 1059.76 L816.82 1058.1 L817.94 1056.46 L819.09 1054.84 L820.26 1053.23 L821.45 1051.65 L822.67 1050.09 L823.92 1048.56 L825.19 1047.04 L826.49 1045.55 L827.81 1044.09 L829.17 1042.65 L830.55 1041.23 L831.96 1039.85 L833.4 1038.49 L834.86 1037.15 L836.35 1035.84 L837.86 1034.55 L839.4 1033.29 L840.96 1032.05 L842.54 1030.83 L844.14 1029.64 L845.76 1028.46 L847.41 1027.31 L849.07 1026.17 L850.74 1025.06 L852.44 1023.96 L854.15 1022.89 L855.87 1021.83 L857.61 1020.78 L859.36 1019.76 L861.13 1018.75 L862.91 1017.76 L864.69 1016.78 L866.49 1015.81 L868.29 1014.86 L870.11 1013.92 L871.93 1013 L873.76 1012.08 L875.59 1011.18 L877.43 1010.29 L879.27 1009.41 L881.11 1008.54 L882.96 1007.68 L884.81 1006.83 L886.66 1005.99 L888.51 1005.15 L890.37 1004.33 L892.23 1003.52 L894.09 1002.71 L895.96 1001.91 L897.82 1001.13 L899.69 1000.35 L901.56 999.58 L903.44 998.82 L905.31 998.07 L907.19 997.32 L909.07 996.59 L910.96 995.86 L912.84 995.14 L914.73 994.43 L916.62 993.73 L918.51 993.04 L920.41 992.35 L922.3 991.68 L924.2 991.01 L926.1 990.35 L928.01 989.69 L929.91 989.05 L931.82 988.41 L933.73 987.78 L935.64 987.15 L937.55 986.54 L939.47 985.93 L941.39 985.33 L943.3 984.73 L945.23 984.15 L947.15 983.57 L949.07 982.99 L951 982.43 L952.93 981.87 L954.86 981.32 L956.79 980.77 L958.72 980.23 L960.66 979.7 L962.59 979.17 L964.53 978.65 L966.47 978.14 L968.41 977.63 L970.36 977.13 L972.3 976.64 L974.25 976.15 L976.19 975.66 L978.14 975.19 L980.09 974.71 L982.05 974.25 L984 973.79 L985.96 973.33 L987.91 972.89 L989.87 972.44 L991.83 972 L993.79 971.57 L995.75 971.14 L997.71 970.72 L999.68 970.3 L1001.64 969.89 L1003.61 969.48 L1005.58 969.08 L1007.54 968.68 L1009.51 968.29 L1011.48 967.9 L1013.46 967.51 L1015.43 967.13 L1017.4 966.76 L1019.38 966.39 L1021.35 966.02 L1023.33 965.66 L1025.31 965.3 L1027.29 964.94 L1029.27 964.59 L1031.25 964.24 L1033.23 963.9 L1035.21 963.56 L1037.19 963.23 L1039.18 962.89 L1041.16 962.56 L1043.15 962.24 L1045.13 961.92 L1047.12 961.6 L1049.11 961.28 L1051.09 960.97 L1053.08 960.66 L1055.07 960.35 L1057.06 960.05 L1059.05 959.75 L1061.04 959.45 L1063.03 959.15 L1065.02 958.86 L1067.01 958.57 L1069.01 958.28 L1071 958" fill="none" stroke="#000" stroke-width="2.9" stroke-linejoin="round" stroke-linecap="round"/><path d="M710.9 1441.3 L711.56 1441.63 L712.45 1442.06 L713.5 1442.58 L714.67 1443.16 L715.91 1443.77 L717.16 1444.38 L718.38 1444.97 L719.5 1445.5 L720.59 1445.95 L721.71 1446.32 L722.85 1446.65 L723.98 1446.99 L725.07 1447.39 L726.11 1447.87 L727.06 1448.5 L727.9 1449.3 L728.62 1450.31 L729.24 1451.51 L729.78 1452.84 L730.26 1454.26 L730.7 1455.74 L731.12 1457.21 L731.55 1458.65 L732 1460 L732.47 1461.38 L732.95 1462.88 L733.41 1464.42 L733.86 1465.92 L734.3 1467.31 L734.72 1468.5 L735.12 1469.42 L735.5 1470 L735.86 1470.26 L736.2 1470.28 L736.52 1470.08 L736.83 1469.67 L737.11 1469.05 L737.37 1468.22 L737.6 1467.2 L737.8 1466 L737.96 1464.53 L738.07 1462.75 L738.15 1460.72 L738.21 1458.53 L738.26 1456.22 L738.31 1453.86 L738.39 1451.54 L738.5 1449.3 L738.65 1446.99 L738.83 1444.47 L739.04 1441.85 L739.24 1439.26 L739.45 1436.79 L739.63 1434.56 L739.79 1432.7 L739.9 1431.3 L740.05 1429.26 L740.2 1427.23 L740.36 1425.2 L740.53 1423.17 L740.71 1421.14 L740.9 1419.12 L741.09 1417.11 L741.3 1415.09 L741.51 1413.08 L741.73 1411.07 L741.95 1409.07 L742.18 1407.06 L742.42 1405.06 L742.67 1403.06 L742.92 1401.07 L743.18 1399.08 L743.45 1397.09 L743.72 1395.1 L744 1393.12 L744.28 1391.13 L744.57 1389.15 L744.87 1387.17 L745.17 1385.2 L745.47 1383.22 L745.79 1381.25 L746.1 1379.28 L746.42 1377.31 L746.75 1375.34 L747.08 1373.37 L747.41 1371.41 L747.75 1369.44 L748.09 1367.48 L748.44 1365.52 L748.79 1363.56 L749.14 1361.6 L749.5 1359.64 L749.86 1357.68 L750.22 1355.72 L750.58 1353.76 L750.95 1351.81 L751.32 1349.85 L751.7 1347.9 L752.07 1345.94 L752.45 1343.99 L752.83 1342.03 L753.21 1340.08 L753.59 1338.12 L753.98 1336.17 L754.36 1334.21 L754.75 1332.26 L755.14 1330.3 L755.52 1328.35 L755.91 1326.39 L756.3 1324.43 L756.69 1322.48 L757.08 1320.52 L757.47 1318.56 L757.86 1316.6 L758.25 1314.64 L758.64 1312.68 L759.03 1310.71 L759.42 1308.75 L759.81 1306.78 L760.19 1304.82 L760.58 1302.85 L760.96 1300.88 L761.34 1298.91 L761.72 1296.93 L762.1 1294.96 L762.47 1292.98 L762.85 1291 L763.22 1289.02 L763.59 1287.04 L763.96 1285.05 L764.32 1283.07 L764.68 1281.08 L765.04 1279.08 L765.39 1277.09 L765.74 1275.09 L766.09 1273.09 L766.43 1271.09 L766.77 1269.08 L767.11 1267.07 L767.44 1265.06 L767.77 1263.05 L768.09 1261.03 L768.42 1259.01 L768.74 1257 L769.06 1254.98 L769.38 1252.95 L769.71 1250.93 L770.03 1248.91 L770.36 1246.89 L770.69 1244.87 L771.03 1242.85 L771.36 1240.84 L771.71 1238.82 L772.06 1236.81 L772.41 1234.8 L772.78 1232.79 L773.15 1230.79 L773.53 1228.79 L773.92 1226.79 L774.31 1224.8 L774.72 1222.82 L775.14 1220.83 L775.58 1218.86 L776.02 1216.89 L776.48 1214.93 L776.95 1212.97 L777.44 1211.02 L777.94 1209.08 L778.46 1207.14 L779 1205.22 L779.55 1203.3 L780.13 1201.39 L780.72 1199.49 L781.33 1197.6 L781.96 1195.72 L782.61 1193.85 L783.28 1191.99 L783.98 1190.14 L784.7 1188.31 L785.44 1186.48 L786.21 1184.67 L787 1182.87 L787.82 1181.08 L788.66 1179.31 L789.53 1177.55 L790.42 1175.8 L791.34 1174.06 L792.28 1172.34 L793.24 1170.62 L794.23 1168.92 L795.24 1167.23 L796.26 1165.56 L797.31 1163.89 L798.38 1162.23 L799.47 1160.59 L800.58 1158.96 L801.71 1157.33 L802.85 1155.72 L804.01 1154.12 L805.19 1152.53 L806.39 1150.95 L807.6 1149.38 L808.83 1147.81 L810.07 1146.26 L811.33 1144.72 L812.6 1143.19 L813.89 1141.66 L815.19 1140.15 L816.5 1138.64 L817.82 1137.14 L819.15 1135.65 L820.5 1134.17 L821.85 1132.7 L823.22 1131.23 L824.59 1129.77 L825.97 1128.31 L827.35 1126.86 L828.74 1125.41 L830.14 1123.96 L831.53 1122.52 L832.93 1121.07 L834.33 1119.62 L835.72 1118.17 L837.12 1116.72 L838.51 1115.26 L839.9 1113.8 L841.28 1112.33 L842.66 1110.86 L844.04 1109.39 L845.42 1107.91 L846.79 1106.43 L848.16 1104.95 L849.53 1103.46 L850.9 1101.97 L852.27 1100.48 L853.63 1098.99 L854.99 1097.49 L856.35 1096 L857.72 1094.5 L859.07 1093 L860.43 1091.5 L861.79 1090 L863.15 1088.5 L864.51 1087 L865.87 1085.5 L867.22 1084 L868.58 1082.5 L869.94 1081 L871.3 1079.5 L872.66 1078.01 L874.02 1076.51 L875.39 1075.02 L876.75 1073.53 L878.12 1072.04 L879.49 1070.55 L880.86 1069.07 L882.23 1067.59 L883.6 1066.11 L884.98 1064.64 L886.36 1063.17 L887.74 1061.7 L889.13 1060.24 L890.52 1058.78 L891.91 1057.33 L893.31 1055.88 L894.71 1054.44 L896.11 1053 L897.52 1051.57 L898.93 1050.14 L900.35 1048.72 L901.77 1047.31 L903.2 1045.9 L904.63 1044.5 L906.07 1043.11 L907.51 1041.73 L908.96 1040.35 L910.41 1038.98 L911.87 1037.62 L913.33 1036.26 L914.81 1034.92 L916.29 1033.58 L917.77 1032.25 L919.26 1030.93 L920.76 1029.62 L922.27 1028.33 L923.78 1027.04 L925.3 1025.76 L926.83 1024.49 L928.37 1023.23 L929.91 1021.98 L931.47 1020.75 L933.03 1019.52 L934.6 1018.31 L936.18 1017.11 L937.77 1015.92 L939.36 1014.74 L940.97 1013.58 L942.59 1012.43 L944.21 1011.29 L945.85 1010.16 L947.5 1009.05 L949.15 1007.96 L950.82 1006.87 L952.5 1005.8 L954.19 1004.75 L955.89 1003.71 L957.6 1002.68 L959.32 1001.67 L961.05 1000.68 L962.79 999.7 L964.54 998.73 L966.31 997.78 L968.08 996.84 L969.86 995.91 L971.65 995 L973.45 994.11 L975.26 993.22 L977.08 992.35 L978.91 991.5 L980.74 990.65 L982.58 989.82 L984.43 989 L986.28 988.19 L988.15 987.4 L990.01 986.62 L991.89 985.85 L993.77 985.09 L995.66 984.34 L997.55 983.61 L999.45 982.88 L1001.35 982.17 L1003.26 981.47 L1005.17 980.78 L1007.09 980.1 L1009.01 979.43 L1010.93 978.77 L1012.86 978.12 L1014.79 977.48 L1016.72 976.85 L1018.66 976.23 L1020.6 975.62 L1022.54 975.01 L1024.48 974.42 L1026.43 973.84 L1028.37 973.26 L1030.32 972.7 L1032.27 972.14 L1034.22 971.59 L1036.16 971.05 L1038.11 970.51 L1040.06 969.99 L1042.01 969.47 L1043.96 968.96 L1045.9 968.46 L1047.85 967.96 L1049.79 967.47 L1051.73 966.99 L1053.67 966.51 L1055.61 966.04 L1057.55 965.58 L1059.48 965.12 L1061.41 964.67 L1063.33 964.23 L1065.26 963.79 L1067.17 963.35 L1069.09 962.93 L1071 962.5" fill="none" stroke="#ff0000" stroke-width="6" stroke-dasharray="18.58 37.15" stroke-dashoffset="51.77" stroke-linejoin="round" stroke-linecap="round"/><path d="M766.8 1249.8 L767.24 1247.9 L767.67 1246 L768.09 1244.09 L768.5 1242.17 L768.9 1240.25 L769.29 1238.32 L769.66 1236.38 L770.03 1234.44 L770.39 1232.5 L770.74 1230.54 L771.08 1228.59 L771.41 1226.62 L771.73 1224.66 L772.05 1222.68 L772.36 1220.71 L772.67 1218.72 L772.96 1216.74 L773.26 1214.75 L773.55 1212.76 L773.83 1210.76 L774.11 1208.76 L774.38 1206.75 L774.66 1204.75 L774.93 1202.74 L775.19 1200.73 L775.46 1198.71 L775.72 1196.7 L775.98 1194.68 L776.24 1192.66 L776.51 1190.63 L776.77 1188.61 L777.03 1186.58 L777.29 1184.56 L777.56 1182.53 L777.82 1180.5 L778.09 1178.47 L778.36 1176.44 L778.64 1174.42 L778.91 1172.39 L779.19 1170.36 L779.48 1168.33 L779.77 1166.3 L780.07 1164.27 L780.37 1162.25 L780.68 1160.22 L780.99 1158.2 L781.31 1156.18 L781.64 1154.16 L781.98 1152.14 L782.32 1150.12 L782.67 1148.11 L783.04 1146.1 L783.41 1144.09 L783.79 1142.08 L784.18 1140.08 L784.58 1138.08 L785 1136.09 L785.42 1134.09 L785.86 1132.11 L786.31 1130.12 L786.77 1128.14 L787.25 1126.17 L787.74 1124.19 L788.24 1122.23 L788.76 1120.27 L789.3 1118.31 L789.85 1116.36 L790.41 1114.42 L790.99 1112.48 L791.59 1110.54 L792.21 1108.62 L792.84 1106.7 L793.49 1104.78 L794.16 1102.87 L794.85 1100.98 L795.55 1099.08 L796.28 1097.2 L797.02 1095.33 L797.78 1093.46 L798.55 1091.6 L799.35 1089.76 L800.16 1087.92 L801 1086.09 L801.85 1084.28 L802.72 1082.48 L803.61 1080.68 L804.52 1078.9 L805.45 1077.13 L806.4 1075.38 L807.36 1073.64 L808.35 1071.91 L809.36 1070.19 L810.38 1068.49 L811.43 1066.8 L812.49 1065.13 L813.58 1063.48 L814.68 1061.83 L815.81 1060.21 L816.96 1058.6 L818.12 1057.01 L819.31 1055.44 L820.52 1053.88 L821.75 1052.34 L823 1050.82 L824.27 1049.32 L825.56 1047.83 L826.87 1046.37 L828.2 1044.93 L829.56 1043.5 L830.94 1042.1 L832.33 1040.72 L833.75 1039.35 L835.19 1038.01 L836.65 1036.69 L838.13 1035.39 L839.63 1034.1 L841.15 1032.84 L842.68 1031.59 L844.23 1030.37 L845.81 1029.16 L847.39 1027.97 L849 1026.79 L850.62 1025.64 L852.26 1024.5 L853.91 1023.38 L855.58 1022.28 L857.26 1021.19 L858.96 1020.12 L860.67 1019.06 L862.39 1018.02 L864.13 1017 L865.87 1015.99 L867.64 1015 L869.41 1014.02 L871.19 1013.05 L872.99 1012.1 L874.79 1011.17 L876.61 1010.24 L878.43 1009.33 L880.27 1008.44 L882.11 1007.56 L883.96 1006.69 L885.82 1005.83 L887.69 1004.98 L889.56 1004.15 L891.44 1003.33 L893.33 1002.52 L895.22 1001.72 L897.12 1000.93 L899.02 1000.16 L900.93 999.39 L902.84 998.63 L904.75 997.89 L906.67 997.15 L908.6 996.42 L910.52 995.7 L912.45 994.99 L914.37 994.29 L916.3 993.6 L918.23 992.92 L920.16 992.24 L922.09 991.57 L924.02 990.91 L925.95 990.26 L927.89 989.61 L929.82 988.98 L931.75 988.35 L933.68 987.72 L935.61 987.11 L937.55 986.5 L939.48 985.9 L941.42 985.3 L943.35 984.72 L945.29 984.14 L947.22 983.56 L949.16 983 L951.09 982.44 L953.03 981.88 L954.97 981.34 L956.91 980.8 L958.85 980.26 L960.79 979.73 L962.73 979.21 L964.67 978.7 L966.61 978.19 L968.55 977.69 L970.5 977.19 L972.44 976.7 L974.39 976.21 L976.33 975.73 L978.28 975.26 L980.23 974.79 L982.17 974.33 L984.12 973.87 L986.07 973.42 L988.02 972.97 L989.97 972.53 L991.93 972.09 L993.88 971.66 L995.84 971.23 L997.79 970.81 L999.75 970.4 L1001.71 969.98 L1003.66 969.58 L1005.62 969.17 L1007.58 968.78 L1009.55 968.38 L1011.51 967.99 L1013.47 967.61 L1015.44 967.23 L1017.4 966.85 L1019.37 966.48 L1021.34 966.11 L1023.31 965.75 L1025.28 965.39 L1027.25 965.03 L1029.23 964.68 L1031.2 964.33 L1033.18 963.98 L1035.16 963.64 L1037.13 963.3 L1039.12 962.97 L1041.1 962.63 L1043.08 962.3 L1045.06 961.98 L1047.05 961.66 L1049.04 961.34 L1051.03 961.02 L1053.02 960.71 L1055.01 960.4 L1057 960.09 L1059 959.78 L1060.99 959.48 L1062.99 959.18 L1064.99 958.88 L1066.99 958.58 L1068.99 958.29 L1071 958 L1071 962.51 L1069 962.84 L1067.01 963.19 L1065.01 963.55 L1063.02 963.92 L1061.03 964.3 L1059.04 964.69 L1057.06 965.1 L1055.08 965.52 L1053.1 965.95 L1051.13 966.39 L1049.16 966.85 L1047.19 967.31 L1045.22 967.79 L1043.26 968.28 L1041.3 968.78 L1039.35 969.3 L1037.4 969.82 L1035.45 970.36 L1033.51 970.91 L1031.57 971.47 L1029.64 972.04 L1027.71 972.63 L1025.78 973.22 L1023.86 973.83 L1021.94 974.45 L1020.03 975.08 L1018.12 975.73 L1016.21 976.38 L1014.31 977.05 L1012.41 977.73 L1010.52 978.41 L1008.64 979.12 L1006.76 979.83 L1004.88 980.55 L1003.01 981.29 L1001.14 982.03 L999.28 982.79 L997.42 983.56 L995.57 984.34 L993.72 985.14 L991.88 985.94 L990.05 986.76 L988.22 987.58 L986.39 988.42 L984.58 989.27 L982.76 990.13 L980.96 991.01 L979.16 991.89 L977.36 992.78 L975.57 993.69 L973.79 994.61 L972.01 995.54 L970.24 996.47 L968.48 997.43 L966.72 998.39 L964.97 999.36 L963.22 1000.34 L961.49 1001.34 L959.75 1002.35 L958.03 1003.36 L956.31 1004.39 L954.6 1005.43 L952.9 1006.48 L951.2 1007.54 L949.51 1008.61 L947.83 1009.7 L946.15 1010.79 L944.48 1011.89 L942.82 1013.01 L941.17 1014.14 L939.52 1015.27 L937.88 1016.42 L936.25 1017.58 L934.63 1018.75 L933.02 1019.93 L931.41 1021.12 L929.81 1022.32 L928.22 1023.54 L926.63 1024.76 L925.06 1025.99 L923.49 1027.24 L921.93 1028.49 L920.38 1029.76 L918.84 1031.04 L917.31 1032.32 L915.79 1033.62 L914.27 1034.93 L912.76 1036.25 L911.26 1037.58 L909.77 1038.92 L908.29 1040.27 L906.82 1041.63 L905.36 1043 L903.91 1044.38 L902.46 1045.77 L901.03 1047.17 L899.6 1048.59 L898.19 1050.01 L896.78 1051.44 L895.39 1052.88 L894 1054.34 L892.62 1055.8 L891.25 1057.27 L889.89 1058.75 L888.53 1060.24 L887.18 1061.74 L885.84 1063.24 L884.5 1064.74 L883.17 1066.26 L881.84 1067.77 L880.51 1069.29 L879.18 1070.82 L877.86 1072.34 L876.54 1073.87 L875.22 1075.4 L873.89 1076.92 L872.57 1078.45 L871.24 1079.98 L869.91 1081.51 L868.58 1083.03 L867.25 1084.55 L865.91 1086.07 L864.56 1087.58 L863.21 1089.09 L861.86 1090.59 L860.49 1092.09 L859.12 1093.58 L857.74 1095.06 L856.35 1096.54 L854.96 1098.01 L853.56 1099.47 L852.16 1100.93 L850.75 1102.39 L849.34 1103.84 L847.93 1105.29 L846.51 1106.74 L845.09 1108.19 L843.67 1109.63 L842.25 1111.07 L840.83 1112.51 L839.41 1113.95 L837.99 1115.39 L836.57 1116.84 L835.16 1118.28 L833.75 1119.72 L832.34 1121.17 L830.94 1122.62 L829.54 1124.07 L828.15 1125.52 L826.76 1126.98 L825.39 1128.45 L824.02 1129.92 L822.65 1131.39 L821.3 1132.87 L819.96 1134.36 L818.62 1135.85 L817.3 1137.36 L815.99 1138.87 L814.69 1140.38 L813.4 1141.91 L812.13 1143.44 L810.86 1144.98 L809.62 1146.53 L808.38 1148.09 L807.17 1149.66 L805.96 1151.24 L804.78 1152.83 L803.61 1154.43 L802.46 1156.03 L801.32 1157.65 L800.21 1159.28 L799.11 1160.93 L798.03 1162.58 L796.98 1164.24 L795.94 1165.92 L794.92 1167.61 L793.93 1169.31 L792.96 1171.02 L792.01 1172.75 L791.08 1174.49 L790.18 1176.24 L789.3 1178.01 L788.45 1179.79 L787.62 1181.59 L786.81 1183.4 L786.04 1185.22 L785.29 1187.06 L784.56 1188.91 L783.86 1190.78 L783.18 1192.66 L782.52 1194.54 L781.88 1196.45 L781.27 1198.36 L780.67 1200.28 L780.09 1202.21 L779.54 1204.15 L779 1206.09 L778.47 1208.05 L777.96 1210.01 L777.47 1211.98 L776.99 1213.96 L776.53 1215.94 L776.08 1217.93 L775.64 1219.92 L775.21 1221.92 L774.79 1223.92 L774.39 1225.92 L773.99 1227.93 L773.6 1229.93 L773.22 1231.94 L772.85 1233.95 L772.48 1235.96 L772.12 1237.97 L771.76 1239.98 L771.4 1241.99 L771.05 1243.99 L770.7 1245.99 L770.36 1247.99 L770.01 1249.99 L769.66 1251.98 L769.32 1253.97 L768.97 1255.95 L768.62 1257.93 L768.26 1259.9 L767.91 1261.86 L767.54 1263.82 L767.18 1265.76 L766.8 1267.7 Z" fill="#ff0000" fill-opacity="0.5" stroke="none"/></g>
<rect x="690.85" y="860.2" width="380.2" height="589.9" fill="none" stroke="#000" stroke-width="2.2"/>
<path d="M690.85 1450.1v11.6M690.85 860.2v10.6M766.89 1450.1v11.6M766.89 860.2v10.6M842.93 1450.1v11.6M842.93 860.2v10.6M918.97 1450.1v11.6M918.97 860.2v10.6M995.01 1450.1v11.6M995.01 860.2v10.6M1071.05 1450.1v11.6M1071.05 860.2v10.6M728.87 1450.1v5.4M728.87 860.2v5M804.91 1450.1v5.4M804.91 860.2v5M880.95 1450.1v5.4M880.95 860.2v5M956.99 1450.1v5.4M956.99 860.2v5M1033.03 1450.1v5.4M1033.03 860.2v5M690.85 1450.1h-11.8M1071.05 1450.1h-11.6M690.85 1424.73h-6.2M1071.05 1424.73h-6.2M690.85 1409.89h-6.2M1071.05 1409.89h-6.2M690.85 1399.36h-6.2M1071.05 1399.36h-6.2M690.85 1391.2h-6.2M1071.05 1391.2h-6.2M690.85 1384.52h-6.2M1071.05 1384.52h-6.2M690.85 1378.88h-6.2M1071.05 1378.88h-6.2M690.85 1374h-6.2M1071.05 1374h-6.2M690.85 1369.68h-6.2M1071.05 1369.68h-6.2M690.85 1365.83h-11.8M1071.05 1365.83h-11.6M690.85 1340.46h-6.2M1071.05 1340.46h-6.2M690.85 1325.62h-6.2M1071.05 1325.62h-6.2M690.85 1315.09h-6.2M1071.05 1315.09h-6.2M690.85 1306.93h-6.2M1071.05 1306.93h-6.2M690.85 1300.25h-6.2M1071.05 1300.25h-6.2M690.85 1294.61h-6.2M1071.05 1294.61h-6.2M690.85 1289.72h-6.2M1071.05 1289.72h-6.2M690.85 1285.41h-6.2M1071.05 1285.41h-6.2M690.85 1281.56h-11.8M1071.05 1281.56h-11.6M690.85 1256.19h-6.2M1071.05 1256.19h-6.2M690.85 1241.35h-6.2M1071.05 1241.35h-6.2M690.85 1230.82h-6.2M1071.05 1230.82h-6.2M690.85 1222.65h-6.2M1071.05 1222.65h-6.2M690.85 1215.98h-6.2M1071.05 1215.98h-6.2M690.85 1210.34h-6.2M1071.05 1210.34h-6.2M690.85 1205.45h-6.2M1071.05 1205.45h-6.2M690.85 1201.14h-6.2M1071.05 1201.14h-6.2M690.85 1197.29h-11.8M1071.05 1197.29h-11.6M690.85 1171.92h-6.2M1071.05 1171.92h-6.2M690.85 1157.08h-6.2M1071.05 1157.08h-6.2M690.85 1146.55h-6.2M1071.05 1146.55h-6.2M690.85 1138.38h-6.2M1071.05 1138.38h-6.2M690.85 1131.71h-6.2M1071.05 1131.71h-6.2M690.85 1126.07h-6.2M1071.05 1126.07h-6.2M690.85 1121.18h-6.2M1071.05 1121.18h-6.2M690.85 1116.87h-6.2M1071.05 1116.87h-6.2M690.85 1113.01h-11.8M1071.05 1113.01h-11.6M690.85 1087.65h-6.2M1071.05 1087.65h-6.2M690.85 1072.81h-6.2M1071.05 1072.81h-6.2M690.85 1062.28h-6.2M1071.05 1062.28h-6.2M690.85 1054.11h-6.2M1071.05 1054.11h-6.2M690.85 1047.44h-6.2M1071.05 1047.44h-6.2M690.85 1041.8h-6.2M1071.05 1041.8h-6.2M690.85 1036.91h-6.2M1071.05 1036.91h-6.2M690.85 1032.6h-6.2M1071.05 1032.6h-6.2M690.85 1028.74h-11.8M1071.05 1028.74h-11.6M690.85 1003.37h-6.2M1071.05 1003.37h-6.2M690.85 988.54h-6.2M1071.05 988.54h-6.2M690.85 978.01h-6.2M1071.05 978.01h-6.2M690.85 969.84h-6.2M1071.05 969.84h-6.2M690.85 963.17h-6.2M1071.05 963.17h-6.2M690.85 957.53h-6.2M1071.05 957.53h-6.2M690.85 952.64h-6.2M1071.05 952.64h-6.2M690.85 948.33h-6.2M1071.05 948.33h-6.2M690.85 944.47h-11.8M1071.05 944.47h-11.6M690.85 919.1h-6.2M1071.05 919.1h-6.2M690.85 904.26h-6.2M1071.05 904.26h-6.2M690.85 893.73h-6.2M1071.05 893.73h-6.2M690.85 885.57h-6.2M1071.05 885.57h-6.2M690.85 878.9h-6.2M1071.05 878.9h-6.2M690.85 873.25h-6.2M1071.05 873.25h-6.2M690.85 868.37h-6.2M1071.05 868.37h-6.2M690.85 864.06h-6.2M1071.05 864.06h-6.2M690.85 860.2h-11.8M1071.05 860.2h-11.6" stroke="#000" stroke-width="2" stroke-linecap="round" fill="none"/>
<text x="671.45" y="1457.2" text-anchor="end" class="tl">1E-12</text>
<text x="671.45" y="1372.93" text-anchor="end" class="tl">1E-11</text>
<text x="671.45" y="1288.66" text-anchor="end" class="tl">1E-10</text>
<text x="671.45" y="1204.39" text-anchor="end" class="tl">1E-9</text>
<text x="671.45" y="1120.11" text-anchor="end" class="tl">1E-8</text>
<text x="671.45" y="1035.84" text-anchor="end" class="tl">1E-7</text>
<text x="671.45" y="951.57" text-anchor="end" class="tl">1E-6</text>
<text x="671.45" y="867.3" text-anchor="end" class="tl">1E-5</text>
<text x="690.85" y="1488.7" text-anchor="middle" class="tl">-5</text>
<text x="766.89" y="1488.7" text-anchor="middle" class="tl">0</text>
<text x="842.93" y="1488.7" text-anchor="middle" class="tl">5</text>
<text x="918.97" y="1488.7" text-anchor="middle" class="tl">10</text>
<text x="995.01" y="1488.7" text-anchor="middle" class="tl">15</text>
<text x="1071.05" y="1488.7" text-anchor="middle" class="tl">20</text>
<text x="844.45" y="1536.3" class="at">V<tspan class="sub" dy="10.5">g</tspan><tspan dy="-10.5">(V)</tspan></text>
<text transform="translate(594.45 1171.5) rotate(-90)" class="at">I<tspan class="sub" dx="-0.6" dy="10.5">ds</tspan><tspan dx="-0.7" dy="-10.5">(A)</tspan></text>
<clipPath id="clip5"><rect x="1252.3" y="859.8" width="379.6" height="590.3"/></clipPath>
<line x1="1290.26" y1="860.8" x2="1290.26" y2="1450.1" stroke="#c8c8c8" stroke-width="1.3" stroke-dasharray="2 3"/>
<line x1="1366.18" y1="860.8" x2="1366.18" y2="1450.1" stroke="#c8c8c8" stroke-width="1.3" stroke-dasharray="2 3"/>
<line x1="1442.1" y1="860.8" x2="1442.1" y2="1450.1" stroke="#c8c8c8" stroke-width="1.3" stroke-dasharray="2 3"/>
<line x1="1518.02" y1="860.8" x2="1518.02" y2="1450.1" stroke="#c8c8c8" stroke-width="1.3" stroke-dasharray="2 3"/>
<line x1="1593.94" y1="860.8" x2="1593.94" y2="1450.1" stroke="#c8c8c8" stroke-width="1.3" stroke-dasharray="2 3"/>
<line x1="1328.22" y1="859.8" x2="1328.22" y2="1450.1" stroke="#a8a8a8" stroke-width="1.2"/>
<line x1="1404.14" y1="859.8" x2="1404.14" y2="1450.1" stroke="#a8a8a8" stroke-width="1.2"/>
<line x1="1480.06" y1="859.8" x2="1480.06" y2="1450.1" stroke="#a8a8a8" stroke-width="1.2"/>
<line x1="1555.98" y1="859.8" x2="1555.98" y2="1450.1" stroke="#a8a8a8" stroke-width="1.2"/>
<g clip-path="url(#clip5)"><path d="M1252 1442.4 L1252.14 1442.64 L1252.31 1442.99 L1252.52 1443.4 L1252.75 1443.85 L1253.02 1444.3 L1253.31 1444.71 L1253.64 1445.06 L1254 1445.3 L1254.4 1445.49 L1254.86 1445.67 L1255.35 1445.82 L1255.88 1445.91 L1256.41 1445.93 L1256.95 1445.85 L1257.49 1445.65 L1258 1445.3 L1258.5 1444.71 L1259 1443.88 L1259.5 1442.87 L1260 1441.79 L1260.5 1440.71 L1261 1439.73 L1261.5 1438.93 L1262 1438.4 L1262.51 1438.15 L1263.02 1438.12 L1263.54 1438.24 L1264.06 1438.47 L1264.57 1438.75 L1265.07 1439.04 L1265.55 1439.27 L1266 1439.4 L1266.42 1439.48 L1266.8 1439.59 L1267.16 1439.69 L1267.51 1439.78 L1267.85 1439.81 L1268.21 1439.78 L1268.59 1439.65 L1269 1439.4 L1269.44 1438.95 L1269.91 1438.29 L1270.39 1437.5 L1270.89 1436.65 L1271.39 1435.84 L1271.9 1435.13 L1272.4 1434.63 L1272.9 1434.4 L1273.4 1434.51 L1273.89 1434.91 L1274.39 1435.5 L1274.89 1436.21 L1275.4 1436.94 L1275.9 1437.61 L1276.4 1438.13 L1276.9 1438.4 L1277.4 1438.41 L1277.9 1438.23 L1278.4 1437.91 L1278.9 1437.53 L1279.4 1437.12 L1279.9 1436.76 L1280.4 1436.5 L1280.9 1436.4 L1281.4 1436.46 L1281.9 1436.62 L1282.4 1436.86 L1282.9 1437.15 L1283.4 1437.47 L1283.9 1437.81 L1284.4 1438.12 L1284.9 1438.4 L1285.41 1438.7 L1285.92 1439.06 L1286.44 1439.46 L1286.96 1439.84 L1287.47 1440.16 L1287.97 1440.39 L1288.45 1440.48 L1288.9 1440.4 L1289.32 1440.09 L1289.7 1439.57 L1290.05 1438.91 L1290.4 1438.15 L1290.75 1437.36 L1291.1 1436.6 L1291.48 1435.93 L1291.9 1435.4 L1292.35 1434.96 L1292.83 1434.53 L1293.33 1434.12 L1293.84 1433.78 L1294.36 1433.51 L1294.88 1433.34 L1295.39 1433.29 L1295.9 1433.4 L1296.4 1433.77 L1296.9 1434.44 L1297.4 1435.29 L1297.9 1436.21 L1298.4 1437.1 L1298.9 1437.83 L1299.4 1438.3 L1299.9 1438.4 L1300.4 1438.04 L1300.9 1437.28 L1301.4 1436.26 L1301.9 1435.09 L1302.4 1433.89 L1302.9 1432.8 L1303.4 1431.93 L1303.9 1431.4 L1304.41 1431.2 L1304.92 1431.2 L1305.44 1431.36 L1305.96 1431.65 L1306.47 1432.03 L1306.97 1432.48 L1307.45 1432.94 L1307.9 1433.4 L1308.32 1433.92 L1308.7 1434.58 L1309.05 1435.32 L1309.4 1436.09 L1309.75 1436.83 L1310.1 1437.5 L1310.48 1438.04 L1310.9 1438.4 L1311.35 1438.59 L1311.83 1438.67 L1312.33 1438.64 L1312.84 1438.53 L1313.36 1438.33 L1313.88 1438.07 L1314.4 1437.76 L1314.9 1437.4 L1315.39 1436.95 L1315.88 1436.38 L1316.37 1435.73 L1316.85 1435.03 L1317.33 1434.3 L1317.82 1433.6 L1318.31 1432.96 L1318.8 1432.4 L1319.3 1431.94 L1319.79 1431.53 L1320.29 1431.17 L1320.79 1430.84 L1321.3 1430.51 L1321.8 1430.17 L1322.3 1429.81 L1322.8 1429.4 L1323.3 1428.92 L1323.8 1428.38 L1324.3 1427.8 L1324.8 1427.21 L1325.3 1426.65 L1325.8 1426.14 L1326.3 1425.72 L1326.8 1425.4 L1327.3 1425.3 L1327.8 1425.45 L1328.3 1425.72 L1328.8 1426.03 L1329.3 1426.25 L1329.8 1426.29 L1330.3 1426.04 L1330.8 1425.4 L1331.33 1424.22 L1331.89 1422.56 L1332.48 1420.56 L1333.05 1418.4 L1333.59 1416.24 L1334.08 1414.24 L1334.49 1412.58 L1334.81 1411.4 L1335.24 1409.44 L1335.66 1407.48 L1336.07 1405.51 L1336.48 1403.55 L1336.87 1401.58 L1337.26 1399.61 L1337.64 1397.64 L1338.02 1395.66 L1338.39 1393.69 L1338.75 1391.71 L1339.1 1389.73 L1339.45 1387.76 L1339.79 1385.78 L1340.13 1383.8 L1340.46 1381.81 L1340.79 1379.83 L1341.11 1377.84 L1341.43 1375.86 L1341.74 1373.87 L1342.04 1371.89 L1342.35 1369.9 L1342.65 1367.91 L1342.94 1365.92 L1343.23 1363.93 L1343.52 1361.94 L1343.81 1359.95 L1344.09 1357.96 L1344.37 1355.96 L1344.65 1353.97 L1344.92 1351.98 L1345.19 1349.98 L1345.47 1347.99 L1345.74 1346 L1346 1344 L1346.27 1342.01 L1346.54 1340.01 L1346.8 1338.02 L1347.07 1336.03 L1347.34 1334.03 L1347.6 1332.04 L1347.87 1330.05 L1348.13 1328.05 L1348.4 1326.06 L1348.66 1324.07 L1348.93 1322.07 L1349.19 1320.08 L1349.46 1318.09 L1349.72 1316.09 L1349.98 1314.1 L1350.25 1312.11 L1350.51 1310.12 L1350.77 1308.13 L1351.04 1306.13 L1351.3 1304.14 L1351.56 1302.15 L1351.83 1300.16 L1352.09 1298.17 L1352.35 1296.17 L1352.61 1294.18 L1352.88 1292.19 L1353.14 1290.2 L1353.4 1288.21 L1353.66 1286.22 L1353.92 1284.23 L1354.18 1282.23 L1354.44 1280.24 L1354.7 1278.25 L1354.96 1276.26 L1355.22 1274.27 L1355.48 1272.28 L1355.74 1270.29 L1356 1268.3 L1356.26 1266.3 L1356.52 1264.31 L1356.78 1262.32 L1357.04 1260.33 L1357.29 1258.34 L1357.55 1256.35 L1357.81 1254.36 L1358.07 1252.36 L1358.33 1250.37 L1358.59 1248.38 L1358.84 1246.39 L1359.1 1244.4 L1359.36 1242.41 L1359.62 1240.41 L1359.89 1238.42 L1360.15 1236.43 L1360.41 1234.44 L1360.67 1232.44 L1360.94 1230.45 L1361.2 1228.46 L1361.47 1226.46 L1361.74 1224.47 L1362.01 1222.48 L1362.28 1220.48 L1362.55 1218.49 L1362.82 1216.49 L1363.1 1214.5 L1363.37 1212.5 L1363.65 1210.51 L1363.93 1208.51 L1364.21 1206.52 L1364.49 1204.52 L1364.78 1202.52 L1365.06 1200.53 L1365.35 1198.53 L1365.64 1196.53 L1365.94 1194.53 L1366.23 1192.53 L1366.53 1190.53 L1366.83 1188.53 L1367.13 1186.53 L1367.44 1184.53 L1367.75 1182.53 L1368.06 1180.53 L1368.37 1178.53 L1368.69 1176.53 L1369.01 1174.52 L1369.33 1172.52 L1369.65 1170.52 L1369.98 1168.51 L1370.31 1166.51 L1370.65 1164.5 L1370.99 1162.5 L1371.34 1160.49 L1371.69 1158.49 L1372.05 1156.48 L1372.41 1154.48 L1372.78 1152.48 L1373.16 1150.49 L1373.55 1148.49 L1373.95 1146.5 L1374.35 1144.51 L1374.77 1142.52 L1375.2 1140.53 L1375.64 1138.55 L1376.09 1136.58 L1376.55 1134.6 L1377.03 1132.63 L1377.52 1130.67 L1378.02 1128.71 L1378.54 1126.76 L1379.08 1124.81 L1379.63 1122.87 L1380.19 1120.93 L1380.78 1119 L1381.38 1117.08 L1381.99 1115.17 L1382.63 1113.26 L1383.29 1111.36 L1383.96 1109.46 L1384.66 1107.58 L1385.37 1105.7 L1386.11 1103.83 L1386.86 1101.97 L1387.63 1100.12 L1388.42 1098.28 L1389.23 1096.45 L1390.06 1094.62 L1390.91 1092.81 L1391.77 1091 L1392.66 1089.21 L1393.56 1087.42 L1394.48 1085.65 L1395.42 1083.88 L1396.38 1082.13 L1397.35 1080.38 L1398.34 1078.65 L1399.35 1076.93 L1400.38 1075.22 L1401.43 1073.52 L1402.49 1071.83 L1403.57 1070.15 L1404.67 1068.49 L1405.78 1066.84 L1406.91 1065.2 L1408.06 1063.57 L1409.23 1061.95 L1410.41 1060.35 L1411.61 1058.76 L1412.82 1057.19 L1414.05 1055.63 L1415.3 1054.08 L1416.56 1052.54 L1417.84 1051.02 L1419.14 1049.51 L1420.45 1048.02 L1421.78 1046.54 L1423.12 1045.07 L1424.48 1043.62 L1425.85 1042.19 L1427.24 1040.77 L1428.65 1039.37 L1430.07 1037.98 L1431.5 1036.6 L1432.95 1035.25 L1434.42 1033.9 L1435.9 1032.58 L1437.39 1031.27 L1438.9 1029.98 L1440.42 1028.7 L1441.96 1027.44 L1443.51 1026.2 L1445.08 1024.98 L1446.66 1023.77 L1448.25 1022.58 L1449.86 1021.41 L1451.48 1020.25 L1453.12 1019.12 L1454.77 1018 L1456.43 1016.9 L1458.1 1015.82 L1459.79 1014.76 L1461.49 1013.71 L1463.21 1012.69 L1464.94 1011.68 L1466.67 1010.69 L1468.42 1009.72 L1470.19 1008.77 L1471.96 1007.83 L1473.74 1006.91 L1475.54 1006.01 L1477.34 1005.12 L1479.16 1004.24 L1480.98 1003.39 L1482.82 1002.55 L1484.66 1001.72 L1486.52 1000.91 L1488.38 1000.11 L1490.25 999.33 L1492.13 998.56 L1494.01 997.81 L1495.91 997.07 L1497.81 996.34 L1499.72 995.62 L1501.63 994.92 L1503.56 994.23 L1505.48 993.56 L1507.42 992.89 L1509.36 992.24 L1511.3 991.6 L1513.25 990.97 L1515.21 990.35 L1517.17 989.74 L1519.13 989.14 L1521.1 988.55 L1523.07 987.97 L1525.04 987.4 L1527.02 986.84 L1529 986.29 L1530.99 985.75 L1532.97 985.22 L1534.96 984.69 L1536.95 984.18 L1538.94 983.67 L1540.93 983.17 L1542.93 982.67 L1544.92 982.18 L1546.91 981.7 L1548.91 981.23 L1550.9 980.76 L1552.9 980.3 L1554.89 979.84 L1556.88 979.39 L1558.87 978.95 L1560.86 978.51 L1562.85 978.07 L1564.83 977.64 L1566.82 977.21 L1568.8 976.79 L1570.79 976.38 L1572.77 975.96 L1574.75 975.56 L1576.73 975.15 L1578.7 974.75 L1580.68 974.35 L1582.65 973.96 L1584.63 973.57 L1586.6 973.19 L1588.57 972.81 L1590.54 972.43 L1592.5 972.05 L1594.47 971.68 L1596.43 971.31 L1598.39 970.94 L1600.36 970.58 L1602.31 970.21 L1604.27 969.85 L1606.23 969.5 L1608.18 969.14 L1610.13 968.79 L1612.09 968.44 L1614.03 968.09 L1615.98 967.74 L1617.93 967.39 L1619.87 967.05 L1621.81 966.7 L1623.75 966.36 L1625.69 966.02 L1627.63 965.68 L1629.56 965.34 L1631.5 965" fill="none" stroke="#000" stroke-width="2.9" stroke-linejoin="round" stroke-linecap="round"/><path d="M1341.8 1424 L1341.87 1421.99 L1341.95 1419.97 L1342.04 1417.96 L1342.13 1415.95 L1342.23 1413.94 L1342.34 1411.93 L1342.45 1409.93 L1342.57 1407.92 L1342.69 1405.91 L1342.82 1403.91 L1342.96 1401.91 L1343.11 1399.9 L1343.26 1397.9 L1343.41 1395.9 L1343.57 1393.9 L1343.74 1391.9 L1343.92 1389.9 L1344.1 1387.9 L1344.29 1385.91 L1344.48 1383.91 L1344.68 1381.91 L1344.88 1379.92 L1345.09 1377.93 L1345.31 1375.93 L1345.53 1373.94 L1345.76 1371.95 L1346 1369.96 L1346.24 1367.97 L1346.48 1365.98 L1346.74 1363.99 L1346.99 1362.01 L1347.26 1360.02 L1347.53 1358.04 L1347.8 1356.05 L1348.08 1354.07 L1348.37 1352.08 L1348.66 1350.1 L1348.95 1348.12 L1349.26 1346.14 L1349.57 1344.16 L1349.88 1342.18 L1350.2 1340.2 L1350.52 1338.22 L1350.85 1336.24 L1351.19 1334.27 L1351.53 1332.29 L1351.87 1330.32 L1352.22 1328.34 L1352.58 1326.37 L1352.94 1324.39 L1353.3 1322.42 L1353.68 1320.45 L1354.05 1318.48 L1354.43 1316.51 L1354.82 1314.54 L1355.21 1312.57 L1355.61 1310.6 L1356.01 1308.63 L1356.41 1306.66 L1356.83 1304.7 L1357.24 1302.73 L1357.66 1300.77 L1358.09 1298.8 L1358.52 1296.84 L1358.95 1294.87 L1359.39 1292.91 L1359.84 1290.95 L1360.29 1288.98 L1360.74 1287.02 L1361.2 1285.06 L1361.67 1283.1 L1362.13 1281.14 L1362.61 1279.18 L1363.08 1277.22 L1363.56 1275.26 L1364.05 1273.31 L1364.54 1271.35 L1365.03 1269.39 L1365.53 1267.44 L1366.04 1265.48 L1366.54 1263.53 L1367.06 1261.57 L1367.57 1259.62 L1368.09 1257.66 L1368.62 1255.71 L1369.15 1253.76 L1369.68 1251.81 L1370.22 1249.86 L1370.77 1247.91 L1371.32 1245.96 L1371.89 1244.02 L1372.45 1242.08 L1373.03 1240.14 L1373.61 1238.21 L1374.2 1236.28 L1374.8 1234.35 L1375.41 1232.42 L1376.03 1230.5 L1376.66 1228.59 L1377.3 1226.68 L1377.94 1224.77 L1378.6 1222.87 L1379.27 1220.97 L1379.96 1219.08 L1380.65 1217.2 L1381.35 1215.32 L1382.07 1213.45 L1382.8 1211.58 L1383.55 1209.72 L1384.31 1207.87 L1385.08 1206.03 L1385.87 1204.19 L1386.67 1202.36 L1387.49 1200.54 L1388.32 1198.73 L1389.17 1196.92 L1390.03 1195.13 L1390.91 1193.34 L1391.81 1191.57 L1392.72 1189.8 L1393.66 1188.04 L1394.61 1186.29 L1395.58 1184.56 L1396.57 1182.83 L1397.57 1181.12 L1398.6 1179.41 L1399.64 1177.71 L1400.69 1176.03 L1401.77 1174.35 L1402.86 1172.68 L1403.96 1171.03 L1405.08 1169.38 L1406.21 1167.73 L1407.36 1166.1 L1408.52 1164.47 L1409.69 1162.85 L1410.87 1161.24 L1412.07 1159.64 L1413.27 1158.04 L1414.49 1156.45 L1415.71 1154.86 L1416.95 1153.28 L1418.19 1151.71 L1419.44 1150.14 L1420.69 1148.58 L1421.96 1147.02 L1423.23 1145.46 L1424.5 1143.91 L1425.78 1142.36 L1427.07 1140.82 L1428.36 1139.28 L1429.65 1137.75 L1430.95 1136.21 L1432.24 1134.68 L1433.54 1133.15 L1434.85 1131.62 L1436.15 1130.09 L1437.45 1128.57 L1438.75 1127.04 L1440.05 1125.51 L1441.35 1123.99 L1442.65 1122.46 L1443.94 1120.92 L1445.24 1119.39 L1446.52 1117.85 L1447.81 1116.31 L1449.09 1114.77 L1450.36 1113.22 L1451.63 1111.67 L1452.89 1110.11 L1454.15 1108.54 L1455.4 1106.97 L1456.64 1105.4 L1457.87 1103.81 L1459.09 1102.22 L1460.3 1100.62 L1461.51 1099.02 L1462.7 1097.4 L1463.88 1095.77 L1465.05 1094.14 L1466.21 1092.49 L1467.36 1090.84 L1468.5 1089.18 L1469.63 1087.51 L1470.75 1085.83 L1471.86 1084.14 L1472.96 1082.45 L1474.05 1080.74 L1475.14 1079.04 L1476.22 1077.32 L1477.3 1075.61 L1478.37 1073.88 L1479.43 1072.15 L1480.49 1070.42 L1481.54 1068.68 L1482.6 1066.94 L1483.64 1065.2 L1484.69 1063.45 L1485.74 1061.7 L1486.78 1059.96 L1487.83 1058.21 L1488.88 1056.47 L1489.94 1054.73 L1490.99 1053 L1492.06 1051.27 L1493.12 1049.55 L1494.2 1047.83 L1495.28 1046.13 L1496.37 1044.43 L1497.48 1042.74 L1498.59 1041.07 L1499.71 1039.41 L1500.85 1037.76 L1502 1036.12 L1503.16 1034.5 L1504.35 1032.9 L1505.54 1031.32 L1506.76 1029.75 L1507.99 1028.21 L1509.24 1026.68 L1510.51 1025.18 L1511.81 1023.7 L1513.12 1022.24 L1514.46 1020.8 L1515.82 1019.4 L1517.2 1018.01 L1518.61 1016.65 L1520.04 1015.31 L1521.48 1014 L1522.95 1012.71 L1524.44 1011.44 L1525.95 1010.2 L1527.48 1008.98 L1529.03 1007.78 L1530.59 1006.61 L1532.18 1005.46 L1533.78 1004.33 L1535.4 1003.22 L1537.04 1002.13 L1538.7 1001.07 L1540.37 1000.02 L1542.05 999 L1543.76 998 L1545.48 997.02 L1547.21 996.06 L1548.96 995.12 L1550.72 994.2 L1552.5 993.3 L1554.29 992.42 L1556.1 991.56 L1557.91 990.72 L1559.74 989.9 L1561.58 989.1 L1563.44 988.32 L1565.3 987.56 L1567.18 986.82 L1569.06 986.09 L1570.96 985.38 L1572.86 984.69 L1574.78 984.02 L1576.7 983.37 L1578.64 982.73 L1580.58 982.11 L1582.53 981.51 L1584.48 980.92 L1586.44 980.35 L1588.41 979.79 L1590.38 979.24 L1592.36 978.71 L1594.33 978.18 L1596.31 977.67 L1598.29 977.16 L1600.28 976.66 L1602.26 976.17 L1604.24 975.69 L1606.22 975.21 L1608.2 974.73 L1610.17 974.26 L1612.15 973.79 L1614.11 973.32 L1616.07 972.85 L1618.03 972.38 L1619.98 971.91 L1621.92 971.44 L1623.86 970.96 L1625.79 970.48 L1627.7 970 L1629.61 969.51 L1631.5 969.01" fill="none" stroke="#ff0000" stroke-width="6" stroke-dasharray="18.18 37.61" stroke-dashoffset="52.54" stroke-linejoin="round" stroke-linecap="round"/><path d="M1351.6 1296.1 L1351.99 1294.13 L1352.37 1292.17 L1352.74 1290.2 L1353.11 1288.23 L1353.47 1286.26 L1353.82 1284.29 L1354.16 1282.32 L1354.5 1280.35 L1354.83 1278.37 L1355.15 1276.4 L1355.47 1274.42 L1355.78 1272.45 L1356.09 1270.47 L1356.39 1268.49 L1356.68 1266.51 L1356.97 1264.53 L1357.26 1262.55 L1357.54 1260.57 L1357.81 1258.58 L1358.09 1256.6 L1358.35 1254.62 L1358.62 1252.63 L1358.88 1250.64 L1359.14 1248.66 L1359.39 1246.67 L1359.65 1244.68 L1359.9 1242.69 L1360.15 1240.7 L1360.39 1238.71 L1360.64 1236.71 L1360.88 1234.72 L1361.12 1232.73 L1361.37 1230.73 L1361.61 1228.74 L1361.85 1226.74 L1362.09 1224.74 L1362.33 1222.75 L1362.57 1220.75 L1362.81 1218.75 L1363.05 1216.75 L1363.3 1214.75 L1363.54 1212.75 L1363.79 1210.75 L1364.04 1208.74 L1364.29 1206.74 L1364.54 1204.74 L1364.8 1202.73 L1365.06 1200.73 L1365.32 1198.72 L1365.58 1196.72 L1365.85 1194.71 L1366.12 1192.7 L1366.4 1190.7 L1366.68 1188.69 L1366.96 1186.68 L1367.25 1184.67 L1367.55 1182.66 L1367.85 1180.65 L1368.15 1178.64 L1368.47 1176.63 L1368.78 1174.62 L1369.11 1172.6 L1369.44 1170.59 L1369.77 1168.58 L1370.12 1166.57 L1370.47 1164.55 L1370.83 1162.54 L1371.2 1160.53 L1371.57 1158.52 L1371.95 1156.51 L1372.35 1154.5 L1372.75 1152.49 L1373.16 1150.48 L1373.57 1148.48 L1374 1146.48 L1374.44 1144.48 L1374.89 1142.49 L1375.35 1140.49 L1375.82 1138.51 L1376.3 1136.52 L1376.79 1134.54 L1377.3 1132.56 L1377.81 1130.59 L1378.34 1128.63 L1378.88 1126.66 L1379.43 1124.71 L1380 1122.76 L1380.58 1120.81 L1381.17 1118.87 L1381.77 1116.94 L1382.39 1115.02 L1383.03 1113.1 L1383.67 1111.19 L1384.34 1109.28 L1385.01 1107.39 L1385.71 1105.5 L1386.41 1103.62 L1387.14 1101.75 L1387.88 1099.89 L1388.63 1098.04 L1389.41 1096.2 L1390.19 1094.36 L1391 1092.54 L1391.82 1090.73 L1392.67 1088.93 L1393.52 1087.14 L1394.4 1085.36 L1395.3 1083.59 L1396.21 1081.83 L1397.14 1080.09 L1398.09 1078.35 L1399.07 1076.63 L1400.06 1074.92 L1401.07 1073.23 L1402.1 1071.55 L1403.15 1069.88 L1404.22 1068.23 L1405.32 1066.59 L1406.43 1064.96 L1407.57 1063.35 L1408.72 1061.75 L1409.9 1060.17 L1411.1 1058.6 L1412.31 1057.05 L1413.55 1055.51 L1414.8 1053.98 L1416.08 1052.47 L1417.37 1050.98 L1418.68 1049.5 L1420.01 1048.03 L1421.36 1046.58 L1422.72 1045.14 L1424.1 1043.72 L1425.5 1042.31 L1426.92 1040.92 L1428.35 1039.54 L1429.8 1038.18 L1431.26 1036.83 L1432.74 1035.5 L1434.24 1034.19 L1435.75 1032.88 L1437.28 1031.6 L1438.82 1030.32 L1440.37 1029.07 L1441.94 1027.83 L1443.53 1026.6 L1445.12 1025.39 L1446.73 1024.19 L1448.36 1023.01 L1449.99 1021.85 L1451.64 1020.7 L1453.3 1019.56 L1454.98 1018.44 L1456.66 1017.34 L1458.36 1016.25 L1460.06 1015.18 L1461.78 1014.13 L1463.51 1013.08 L1465.25 1012.06 L1467 1011.05 L1468.76 1010.06 L1470.53 1009.08 L1472.3 1008.12 L1474.09 1007.17 L1475.89 1006.24 L1477.69 1005.33 L1479.5 1004.43 L1481.32 1003.55 L1483.15 1002.68 L1484.99 1001.83 L1486.83 1001 L1488.68 1000.18 L1490.54 999.37 L1492.4 998.58 L1494.27 997.8 L1496.15 997.04 L1498.03 996.29 L1499.92 995.56 L1501.82 994.84 L1503.72 994.13 L1505.63 993.43 L1507.54 992.75 L1509.46 992.08 L1511.39 991.42 L1513.31 990.77 L1515.25 990.14 L1517.19 989.52 L1519.13 988.9 L1521.08 988.3 L1523.03 987.71 L1524.98 987.13 L1526.94 986.57 L1528.9 986.01 L1530.87 985.46 L1532.84 984.92 L1534.81 984.39 L1536.78 983.87 L1538.76 983.35 L1540.74 982.85 L1542.72 982.36 L1544.71 981.87 L1546.69 981.39 L1548.68 980.92 L1550.67 980.46 L1552.66 980 L1554.65 979.55 L1556.65 979.11 L1558.64 978.67 L1560.64 978.24 L1562.63 977.82 L1564.63 977.4 L1566.63 976.99 L1568.62 976.58 L1570.62 976.18 L1572.62 975.79 L1574.61 975.39 L1576.61 975.01 L1578.6 974.62 L1580.59 974.24 L1582.59 973.87 L1584.58 973.5 L1586.57 973.13 L1588.55 972.76 L1590.54 972.4 L1592.52 972.04 L1594.51 971.68 L1596.48 971.32 L1598.46 970.97 L1600.43 970.62 L1602.41 970.26 L1604.37 969.91 L1606.34 969.57 L1608.3 969.22 L1610.26 968.87 L1612.21 968.52 L1614.16 968.17 L1616.1 967.82 L1618.04 967.48 L1619.98 967.13 L1621.91 966.77 L1623.84 966.42 L1625.76 966.07 L1627.68 965.71 L1629.59 965.36 L1631.5 965 L1631.5 969.01 L1629.67 969.52 L1627.83 970.03 L1625.97 970.54 L1624.1 971.04 L1622.21 971.55 L1620.31 972.05 L1618.4 972.54 L1616.48 973.04 L1614.54 973.54 L1612.6 974.04 L1610.65 974.54 L1608.69 975.04 L1606.72 975.54 L1604.74 976.05 L1602.76 976.56 L1600.78 977.07 L1598.79 977.59 L1596.8 978.12 L1594.8 978.65 L1592.81 979.19 L1590.81 979.74 L1588.81 980.3 L1586.82 980.86 L1584.82 981.44 L1582.83 982.02 L1580.84 982.62 L1578.86 983.22 L1576.88 983.84 L1574.9 984.48 L1572.94 985.12 L1570.98 985.78 L1569.02 986.46 L1567.08 987.15 L1565.15 987.85 L1563.23 988.58 L1561.32 989.32 L1559.42 990.08 L1557.53 990.85 L1555.66 991.65 L1553.81 992.47 L1551.97 993.3 L1550.14 994.16 L1548.34 995.04 L1546.55 995.95 L1544.78 996.87 L1543.03 997.82 L1541.3 998.8 L1539.59 999.8 L1537.9 1000.82 L1536.24 1001.88 L1534.6 1002.96 L1532.98 1004.06 L1531.39 1005.2 L1529.83 1006.36 L1528.29 1007.56 L1526.78 1008.78 L1525.29 1010.03 L1523.83 1011.3 L1522.39 1012.6 L1520.97 1013.93 L1519.58 1015.28 L1518.21 1016.66 L1516.85 1018.06 L1515.52 1019.48 L1514.21 1020.92 L1512.91 1022.38 L1511.63 1023.87 L1510.37 1025.37 L1509.13 1026.89 L1507.9 1028.43 L1506.69 1029.99 L1505.49 1031.56 L1504.3 1033.15 L1503.13 1034.75 L1501.97 1036.37 L1500.82 1038.01 L1499.69 1039.65 L1498.56 1041.31 L1497.44 1042.98 L1496.33 1044.66 L1495.23 1046.35 L1494.14 1048.05 L1493.05 1049.75 L1491.97 1051.47 L1490.89 1053.19 L1489.82 1054.92 L1488.76 1056.65 L1487.69 1058.39 L1486.63 1060.14 L1485.57 1061.89 L1484.51 1063.64 L1483.45 1065.39 L1482.4 1067.14 L1481.34 1068.89 L1480.28 1070.65 L1479.21 1072.4 L1478.15 1074.15 L1477.08 1075.9 L1476 1077.65 L1474.92 1079.39 L1473.84 1081.13 L1472.74 1082.86 L1471.64 1084.58 L1470.54 1086.3 L1469.42 1088.02 L1468.3 1089.72 L1467.16 1091.42 L1466.02 1093.1 L1464.86 1094.78 L1463.69 1096.44 L1462.51 1098.09 L1461.31 1099.74 L1460.11 1101.37 L1458.89 1102.99 L1457.67 1104.6 L1456.43 1106.2 L1455.19 1107.8 L1453.94 1109.38 L1452.68 1110.96 L1451.41 1112.53 L1450.13 1114.1 L1448.85 1115.65 L1447.57 1117.21 L1446.27 1118.75 L1444.98 1120.29 L1443.68 1121.83 L1442.38 1123.36 L1441.07 1124.89 L1439.76 1126.42 L1438.45 1127.94 L1437.14 1129.46 L1435.83 1130.98 L1434.52 1132.5 L1433.21 1134.02 L1431.9 1135.53 L1430.59 1137.05 L1429.28 1138.57 L1427.98 1140.09 L1426.68 1141.61 L1425.38 1143.13 L1424.09 1144.65 L1422.81 1146.18 L1421.53 1147.71 L1420.25 1149.24 L1418.99 1150.78 L1417.73 1152.32 L1416.48 1153.87 L1415.23 1155.42 L1414 1156.98 L1412.77 1158.55 L1411.56 1160.12 L1410.36 1161.7 L1409.17 1163.29 L1407.99 1164.88 L1406.82 1166.49 L1405.66 1168.1 L1404.52 1169.73 L1403.4 1171.36 L1402.28 1173.01 L1401.19 1174.66 L1400.11 1176.33 L1399.04 1178.01 L1398 1179.7 L1396.97 1181.4 L1395.95 1183.12 L1394.96 1184.85 L1393.99 1186.6 L1393.03 1188.36 L1392.09 1190.13 L1391.17 1191.91 L1390.27 1193.71 L1389.39 1195.52 L1388.52 1197.34 L1387.67 1199.17 L1386.84 1201.01 L1386.02 1202.86 L1385.22 1204.72 L1384.43 1206.59 L1383.66 1208.46 L1382.9 1210.35 L1382.16 1212.24 L1381.43 1214.14 L1380.72 1216.05 L1380.02 1217.96 L1379.34 1219.88 L1378.66 1221.81 L1378 1223.73 L1377.36 1225.67 L1376.72 1227.61 L1376.1 1229.55 L1375.49 1231.5 L1374.89 1233.44 L1374.31 1235.4 L1373.73 1237.35 L1373.16 1239.3 L1372.61 1241.26 L1372.06 1243.22 L1371.52 1245.18 L1370.99 1247.14 L1370.47 1249.1 L1369.96 1251.06 L1369.45 1253.03 L1368.96 1254.99 L1368.46 1256.96 L1367.98 1258.92 L1367.49 1260.89 L1367.02 1262.86 L1366.55 1264.82 L1366.08 1266.79 L1365.61 1268.75 L1365.15 1270.72 L1364.69 1272.69 L1364.23 1274.65 L1363.78 1276.61 L1363.32 1278.58 L1362.87 1280.54 L1362.42 1282.5 L1361.96 1284.46 L1361.51 1286.42 L1361.05 1288.37 L1360.59 1290.33 L1360.13 1292.28 L1359.67 1294.23 L1359.21 1296.18 L1358.74 1298.13 L1358.26 1300.07 L1357.79 1302.01 L1357.3 1303.95 L1356.82 1305.89 L1356.32 1307.82 L1355.82 1309.75 L1355.31 1311.68 L1354.8 1313.6 Z" fill="#ff0000" fill-opacity="0.5" stroke="none"/></g>
<rect x="1252.3" y="859.8" width="379.6" height="590.3" fill="none" stroke="#000" stroke-width="2.2"/>
<path d="M1252.3 1450.1v11.6M1252.3 859.8v10.6M1328.22 1450.1v11.6M1328.22 859.8v10.6M1404.14 1450.1v11.6M1404.14 859.8v10.6M1480.06 1450.1v11.6M1480.06 859.8v10.6M1555.98 1450.1v11.6M1555.98 859.8v10.6M1631.9 1450.1v11.6M1631.9 859.8v10.6M1290.26 1450.1v5.4M1290.26 859.8v5M1366.18 1450.1v5.4M1366.18 859.8v5M1442.1 1450.1v5.4M1442.1 859.8v5M1518.02 1450.1v5.4M1518.02 859.8v5M1593.94 1450.1v5.4M1593.94 859.8v5M1252.3 1450.1h-11.8M1631.9 1450.1h-11.6M1252.3 1424.71h-6.2M1631.9 1424.71h-6.2M1252.3 1409.87h-6.2M1631.9 1409.87h-6.2M1252.3 1399.33h-6.2M1631.9 1399.33h-6.2M1252.3 1391.16h-6.2M1631.9 1391.16h-6.2M1252.3 1384.48h-6.2M1631.9 1384.48h-6.2M1252.3 1378.83h-6.2M1631.9 1378.83h-6.2M1252.3 1373.94h-6.2M1631.9 1373.94h-6.2M1252.3 1369.63h-6.2M1631.9 1369.63h-6.2M1252.3 1365.77h-11.8M1631.9 1365.77h-11.6M1252.3 1340.39h-6.2M1631.9 1340.39h-6.2M1252.3 1325.54h-6.2M1631.9 1325.54h-6.2M1252.3 1315h-6.2M1631.9 1315h-6.2M1252.3 1306.83h-6.2M1631.9 1306.83h-6.2M1252.3 1300.15h-6.2M1631.9 1300.15h-6.2M1252.3 1294.51h-6.2M1631.9 1294.51h-6.2M1252.3 1289.62h-6.2M1631.9 1289.62h-6.2M1252.3 1285.3h-6.2M1631.9 1285.3h-6.2M1252.3 1281.44h-11.8M1631.9 1281.44h-11.6M1252.3 1256.06h-6.2M1631.9 1256.06h-6.2M1252.3 1241.21h-6.2M1631.9 1241.21h-6.2M1252.3 1230.67h-6.2M1631.9 1230.67h-6.2M1252.3 1222.5h-6.2M1631.9 1222.5h-6.2M1252.3 1215.82h-6.2M1631.9 1215.82h-6.2M1252.3 1210.18h-6.2M1631.9 1210.18h-6.2M1252.3 1205.29h-6.2M1631.9 1205.29h-6.2M1252.3 1200.97h-6.2M1631.9 1200.97h-6.2M1252.3 1197.11h-11.8M1631.9 1197.11h-11.6M1252.3 1171.73h-6.2M1631.9 1171.73h-6.2M1252.3 1156.88h-6.2M1631.9 1156.88h-6.2M1252.3 1146.34h-6.2M1631.9 1146.34h-6.2M1252.3 1138.17h-6.2M1631.9 1138.17h-6.2M1252.3 1131.49h-6.2M1631.9 1131.49h-6.2M1252.3 1125.85h-6.2M1631.9 1125.85h-6.2M1252.3 1120.96h-6.2M1631.9 1120.96h-6.2M1252.3 1116.64h-6.2M1631.9 1116.64h-6.2M1252.3 1112.79h-11.8M1631.9 1112.79h-11.6M1252.3 1087.4h-6.2M1631.9 1087.4h-6.2M1252.3 1072.55h-6.2M1631.9 1072.55h-6.2M1252.3 1062.01h-6.2M1631.9 1062.01h-6.2M1252.3 1053.84h-6.2M1631.9 1053.84h-6.2M1252.3 1047.17h-6.2M1631.9 1047.17h-6.2M1252.3 1041.52h-6.2M1631.9 1041.52h-6.2M1252.3 1036.63h-6.2M1631.9 1036.63h-6.2M1252.3 1032.32h-6.2M1631.9 1032.32h-6.2M1252.3 1028.46h-11.8M1631.9 1028.46h-11.6M1252.3 1003.07h-6.2M1631.9 1003.07h-6.2M1252.3 988.22h-6.2M1631.9 988.22h-6.2M1252.3 977.69h-6.2M1631.9 977.69h-6.2M1252.3 969.51h-6.2M1631.9 969.51h-6.2M1252.3 962.84h-6.2M1631.9 962.84h-6.2M1252.3 957.19h-6.2M1631.9 957.19h-6.2M1252.3 952.3h-6.2M1631.9 952.3h-6.2M1252.3 947.99h-6.2M1631.9 947.99h-6.2M1252.3 944.13h-11.8M1631.9 944.13h-11.6M1252.3 918.74h-6.2M1631.9 918.74h-6.2M1252.3 903.89h-6.2M1631.9 903.89h-6.2M1252.3 893.36h-6.2M1631.9 893.36h-6.2M1252.3 885.19h-6.2M1631.9 885.19h-6.2M1252.3 878.51h-6.2M1631.9 878.51h-6.2M1252.3 872.86h-6.2M1631.9 872.86h-6.2M1252.3 867.97h-6.2M1631.9 867.97h-6.2M1252.3 863.66h-6.2M1631.9 863.66h-6.2M1252.3 859.8h-11.8M1631.9 859.8h-11.6" stroke="#000" stroke-width="2" stroke-linecap="round" fill="none"/>
<text x="1232.9" y="1457.2" text-anchor="end" class="tl">1E-12</text>
<text x="1232.9" y="1372.87" text-anchor="end" class="tl">1E-11</text>
<text x="1232.9" y="1288.54" text-anchor="end" class="tl">1E-10</text>
<text x="1232.9" y="1204.21" text-anchor="end" class="tl">1E-9</text>
<text x="1232.9" y="1119.89" text-anchor="end" class="tl">1E-8</text>
<text x="1232.9" y="1035.56" text-anchor="end" class="tl">1E-7</text>
<text x="1232.9" y="951.23" text-anchor="end" class="tl">1E-6</text>
<text x="1232.9" y="866.9" text-anchor="end" class="tl">1E-5</text>
<text x="1252.3" y="1488.7" text-anchor="middle" class="tl">-5</text>
<text x="1328.22" y="1488.7" text-anchor="middle" class="tl">0</text>
<text x="1404.14" y="1488.7" text-anchor="middle" class="tl">5</text>
<text x="1480.06" y="1488.7" text-anchor="middle" class="tl">10</text>
<text x="1555.98" y="1488.7" text-anchor="middle" class="tl">15</text>
<text x="1631.9" y="1488.7" text-anchor="middle" class="tl">20</text>
<text x="1405.9" y="1536.3" class="at">V<tspan class="sub" dy="10.5">g</tspan><tspan dy="-10.5">(V)</tspan></text>
<text transform="translate(1155.9 1171.1) rotate(-90)" class="at">I<tspan class="sub" dx="-0.6" dy="10.5">ds</tspan><tspan dx="-0.7" dy="-10.5">(A)</tspan></text>
<text x="57.7" y="59.8" class="pl">a</text>
<text x="627.9" y="59.8" class="pl">b</text>
<text x="1199.5" y="59.8" class="pl">c</text>
<text x="57.7" y="824.2" class="pl">d</text>
<text x="627.9" y="824.2" class="pl">e</text>
<text x="1199.5" y="824.2" class="pl">f</text>
<text x="135.6" y="133.3" class="tt" textLength="269.83" lengthAdjust="spacingAndGlyphs">V<tspan class="ts" dx="-2.7" dy="10">g</tspan><tspan dx="0.9" dy="-10">=20V,</tspan><tspan dx="3.1"> V</tspan><tspan class="ts" dx="-1.7" dy="10">d</tspan><tspan dy="-10">=0.1V</tspan></text>
<text x="704.7" y="133.3" class="tt" textLength="259.14" lengthAdjust="spacingAndGlyphs">V<tspan class="ts" dx="-2.7" dy="10">g</tspan><tspan dx="0.9" dy="-10">=20V,</tspan><tspan dx="3.1"> V</tspan><tspan class="ts" dx="-1.7" dy="10">d</tspan><tspan dy="-10">=40V</tspan></text>
<text x="1279.7" y="131.8" class="tt" textLength="259.14" lengthAdjust="spacingAndGlyphs">V<tspan class="ts" dx="-2.7" dy="10">g</tspan><tspan dx="0.9" dy="-10">=40V,</tspan><tspan dx="3.1"> V</tspan><tspan class="ts" dx="-1.7" dy="10">d</tspan><tspan dy="-10">=20V</tspan></text>
<text x="135.6" y="897.7" class="tt" textLength="269.83" lengthAdjust="spacingAndGlyphs">V<tspan class="ts" dx="-2.7" dy="10">g</tspan><tspan dx="0.9" dy="-10">=20V,</tspan><tspan dx="3.1"> V</tspan><tspan class="ts" dx="-1.7" dy="10">d</tspan><tspan dy="-10">=0.1V</tspan></text>
<text x="704.7" y="897.7" class="tt" textLength="259.14" lengthAdjust="spacingAndGlyphs">V<tspan class="ts" dx="-2.7" dy="10">g</tspan><tspan dx="0.9" dy="-10">=20V,</tspan><tspan dx="3.1"> V</tspan><tspan class="ts" dx="-1.7" dy="10">d</tspan><tspan dy="-10">=40V</tspan></text>
<text x="1279.7" y="896.2" class="tt" textLength="259.14" lengthAdjust="spacingAndGlyphs">V<tspan class="ts" dx="-2.7" dy="10">g</tspan><tspan dx="0.9" dy="-10">=40V,</tspan><tspan dx="3.1"> V</tspan><tspan class="ts" dx="-1.7" dy="10">d</tspan><tspan dy="-10">=20V</tspan></text>
<line x1="272.3" y1="619.1" x2="348.2" y2="619.1" stroke="#000" stroke-width="2.4"/>
<line x1="274.4" y1="659.8" x2="346.4" y2="659.8" stroke="#0000ff" stroke-width="6" stroke-linecap="round" stroke-dasharray="22.4 32.6"/>
<text x="356.3" y="631.1" class="lg">Initial</text>
<text x="356.3" y="671.6" class="lg">Stressed</text>
<line x1="842.7" y1="619.1" x2="919.1" y2="619.1" stroke="#000" stroke-width="2.4"/>
<line x1="844.8" y1="659.8" x2="917.3" y2="659.8" stroke="#ff0000" stroke-width="6" stroke-linecap="round" stroke-dasharray="22.4 32.6"/>
<text x="927.1" y="631.1" class="lg">Initial</text>
<text x="927.1" y="671.6" class="lg">Stressed</text>
<line x1="1402.8" y1="619.1" x2="1479.2" y2="619.1" stroke="#000" stroke-width="2.4"/>
<line x1="1404.9" y1="659.8" x2="1477.4" y2="659.8" stroke="#ff0000" stroke-width="6" stroke-linecap="round" stroke-dasharray="22.4 32.6"/>
<text x="1487.2" y="631.1" class="lg">Initial</text>
<text x="1487.2" y="671.6" class="lg">Stressed</text>
<line x1="211.1" y1="1383.4" x2="287.4" y2="1383.4" stroke="#000" stroke-width="2.4"/>
<line x1="213.2" y1="1423.6" x2="285.6" y2="1423.6" stroke="#0000ff" stroke-width="6" stroke-linecap="round" stroke-dasharray="22.4 32.6"/>
<text x="296.1" y="1395.4" class="lg">Initial shifted</text>
<text x="296.1" y="1435.4" class="lg">Stressed</text>
<line x1="781.3" y1="1383.4" x2="857.6" y2="1383.4" stroke="#000" stroke-width="2.4"/>
<line x1="783.4" y1="1423.6" x2="855.8" y2="1423.6" stroke="#ff0000" stroke-width="6" stroke-linecap="round" stroke-dasharray="22.4 32.6"/>
<text x="866.3" y="1395.4" class="lg">Initial shifted</text>
<text x="866.3" y="1435.4" class="lg">Stressed</text>
<line x1="1341.4" y1="1383.4" x2="1417.7" y2="1383.4" stroke="#000" stroke-width="2.4"/>
<line x1="1343.5" y1="1423.6" x2="1415.9" y2="1423.6" stroke="#ff0000" stroke-width="6" stroke-linecap="round" stroke-dasharray="22.4 32.6"/>
<text x="1426.4" y="1395.4" class="lg">Initial shifted</text>
<text x="1426.4" y="1435.4" class="lg">Stressed</text>
</svg></body></html>
